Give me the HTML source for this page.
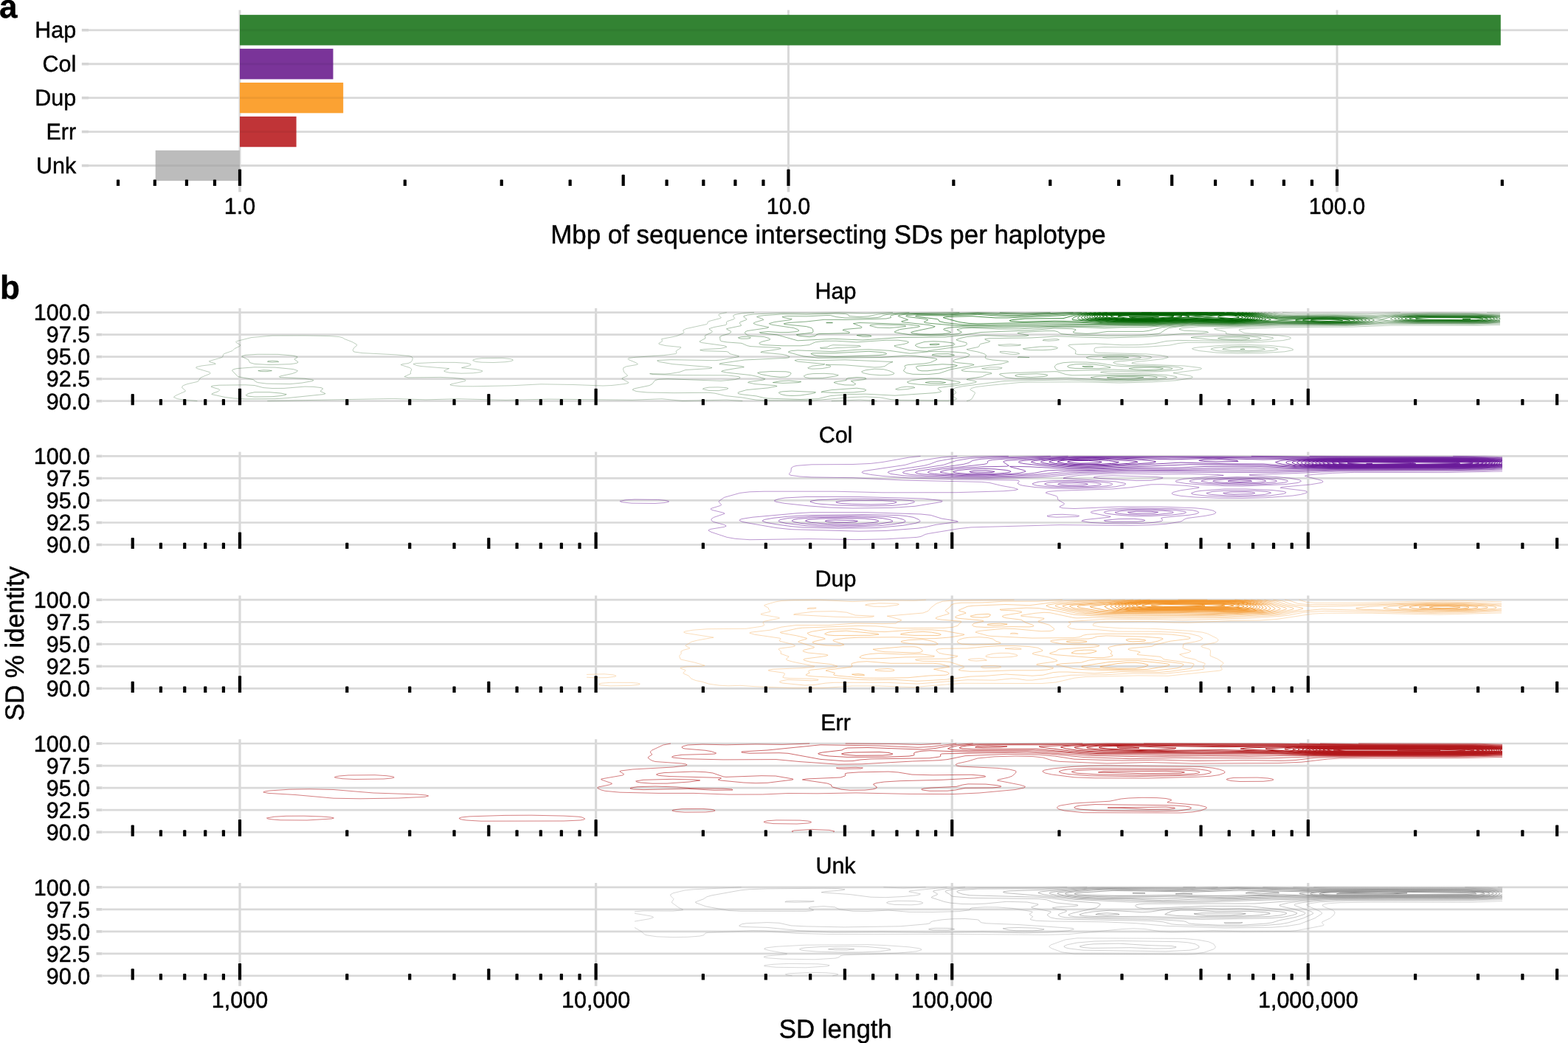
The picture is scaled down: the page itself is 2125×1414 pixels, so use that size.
<!DOCTYPE html><html><head><meta charset="utf-8"><title>Figure</title><style>
html,body{margin:0;padding:0;background:#fff;overflow:hidden;}
svg{display:block;} .t30{font-family:'Liberation Sans', Arial, sans-serif;font-size:30.5px;fill:#000;}
text{stroke:#000;stroke-width:0.45px;text-rendering:geometricPrecision;} .t34{font-family:'Liberation Sans', Arial, sans-serif;font-size:34.9px;fill:#000;} .lab{font-family:'Liberation Sans', Arial, sans-serif;font-size:44px;font-weight:bold;fill:#000;}
</style></head><body>
<svg width="2125" height="1414" viewBox="0 0 2125 1414">
<rect width="2125" height="1414" fill="#fff"/>
<line x1="120.0" y1="40.80" x2="2125" y2="40.80" stroke="#d9d9d9" stroke-width="2.8"/>
<line x1="110.8" y1="40.80" x2="120.0" y2="40.80" stroke="#d4d4d4" stroke-width="3.6"/>
<line x1="120.0" y1="86.73" x2="2125" y2="86.73" stroke="#d9d9d9" stroke-width="2.8"/>
<line x1="110.8" y1="86.73" x2="120.0" y2="86.73" stroke="#d4d4d4" stroke-width="3.6"/>
<line x1="120.0" y1="132.66" x2="2125" y2="132.66" stroke="#d9d9d9" stroke-width="2.8"/>
<line x1="110.8" y1="132.66" x2="120.0" y2="132.66" stroke="#d4d4d4" stroke-width="3.6"/>
<line x1="120.0" y1="178.59" x2="2125" y2="178.59" stroke="#d9d9d9" stroke-width="2.8"/>
<line x1="110.8" y1="178.59" x2="120.0" y2="178.59" stroke="#d4d4d4" stroke-width="3.6"/>
<line x1="120.0" y1="224.52" x2="2125" y2="224.52" stroke="#d9d9d9" stroke-width="2.8"/>
<line x1="110.8" y1="224.52" x2="120.0" y2="224.52" stroke="#d4d4d4" stroke-width="3.6"/>
<line x1="325.00" y1="13.6" x2="325.00" y2="252.0" stroke="#d9d9d9" stroke-width="3"/>
<line x1="325.00" y1="252.0" x2="325.00" y2="260.3" stroke="#d4d4d4" stroke-width="3.6"/>
<line x1="1068.50" y1="13.6" x2="1068.50" y2="252.0" stroke="#d9d9d9" stroke-width="3"/>
<line x1="1068.50" y1="252.0" x2="1068.50" y2="260.3" stroke="#d4d4d4" stroke-width="3.6"/>
<line x1="1812.00" y1="13.6" x2="1812.00" y2="252.0" stroke="#d9d9d9" stroke-width="3"/>
<line x1="1812.00" y1="252.0" x2="1812.00" y2="260.3" stroke="#d4d4d4" stroke-width="3.6"/>
<rect x="325.00" y="20.15" width="1708.80" height="41.3" fill="#338333"/>
<line x1="325.00" y1="40.80" x2="2033.80" y2="40.80" stroke="#000" stroke-opacity="0.05" stroke-width="2.8"/>
<rect x="325.00" y="66.08" width="126.50" height="41.3" fill="#7a3499"/>
<line x1="325.00" y1="86.73" x2="451.50" y2="86.73" stroke="#000" stroke-opacity="0.05" stroke-width="2.8"/>
<rect x="325.00" y="112.01" width="140.20" height="41.3" fill="#fba233"/>
<line x1="325.00" y1="132.66" x2="465.20" y2="132.66" stroke="#000" stroke-opacity="0.05" stroke-width="2.8"/>
<rect x="325.00" y="157.94" width="76.60" height="41.3" fill="#c03437"/>
<line x1="325.00" y1="178.59" x2="401.60" y2="178.59" stroke="#000" stroke-opacity="0.05" stroke-width="2.8"/>
<rect x="210.70" y="203.87" width="114.30" height="41.3" fill="#bcbcbc"/>
<line x1="210.70" y1="224.52" x2="325.00" y2="224.52" stroke="#000" stroke-opacity="0.05" stroke-width="2.8"/>
<path d="M157.96 252.00V244.60q0 -1 1 -1h2.2q1 0 1 1V252.00z" fill="#000"/>
<path d="M207.73 252.00V244.60q0 -1 1 -1h2.2q1 0 1 1V252.00z" fill="#000"/>
<path d="M250.85 252.00V244.60q0 -1 1 -1h2.2q1 0 1 1V252.00z" fill="#000"/>
<path d="M288.88 252.00V244.60q0 -1 1 -1h2.2q1 0 1 1V252.00z" fill="#000"/>
<path d="M322.90 252.00V230.40q0 -1 1 -1h2.2q1 0 1 1V252.00z" fill="#000"/>
<path d="M546.72 252.00V244.60q0 -1 1 -1h2.2q1 0 1 1V252.00z" fill="#000"/>
<path d="M677.64 252.00V244.60q0 -1 1 -1h2.2q1 0 1 1V252.00z" fill="#000"/>
<path d="M770.53 252.00V244.60q0 -1 1 -1h2.2q1 0 1 1V252.00z" fill="#000"/>
<path d="M842.58 252.00V237.80q0 -1 1 -1h2.2q1 0 1 1V252.00z" fill="#000"/>
<path d="M901.46 252.00V244.60q0 -1 1 -1h2.2q1 0 1 1V252.00z" fill="#000"/>
<path d="M951.23 252.00V244.60q0 -1 1 -1h2.2q1 0 1 1V252.00z" fill="#000"/>
<path d="M994.35 252.00V244.60q0 -1 1 -1h2.2q1 0 1 1V252.00z" fill="#000"/>
<path d="M1032.38 252.00V244.60q0 -1 1 -1h2.2q1 0 1 1V252.00z" fill="#000"/>
<path d="M1066.40 252.00V230.40q0 -1 1 -1h2.2q1 0 1 1V252.00z" fill="#000"/>
<path d="M1290.22 252.00V244.60q0 -1 1 -1h2.2q1 0 1 1V252.00z" fill="#000"/>
<path d="M1421.14 252.00V244.60q0 -1 1 -1h2.2q1 0 1 1V252.00z" fill="#000"/>
<path d="M1514.03 252.00V244.60q0 -1 1 -1h2.2q1 0 1 1V252.00z" fill="#000"/>
<path d="M1586.08 252.00V237.80q0 -1 1 -1h2.2q1 0 1 1V252.00z" fill="#000"/>
<path d="M1644.96 252.00V244.60q0 -1 1 -1h2.2q1 0 1 1V252.00z" fill="#000"/>
<path d="M1694.73 252.00V244.60q0 -1 1 -1h2.2q1 0 1 1V252.00z" fill="#000"/>
<path d="M1737.85 252.00V244.60q0 -1 1 -1h2.2q1 0 1 1V252.00z" fill="#000"/>
<path d="M1775.88 252.00V244.60q0 -1 1 -1h2.2q1 0 1 1V252.00z" fill="#000"/>
<path d="M1809.90 252.00V230.40q0 -1 1 -1h2.2q1 0 1 1V252.00z" fill="#000"/>
<path d="M2033.72 252.00V244.60q0 -1 1 -1h2.2q1 0 1 1V252.00z" fill="#000"/>
<text transform="translate(103.2 51.20) scale(1 1.01)" text-anchor="end" class="t30">Hap</text>
<text transform="translate(103.2 97.13) scale(1 1.01)" text-anchor="end" class="t30">Col</text>
<text transform="translate(103.2 143.06) scale(1 1.01)" text-anchor="end" class="t30">Dup</text>
<text transform="translate(103.2 188.99) scale(1 1.01)" text-anchor="end" class="t30">Err</text>
<text transform="translate(103.2 234.92) scale(1 1.01)" text-anchor="end" class="t30">Unk</text>
<text transform="translate(325.00 289.8) scale(1 1.01)" text-anchor="middle" class="t30">1.0</text>
<text transform="translate(1068.50 289.8) scale(1 1.01)" text-anchor="middle" class="t30">10.0</text>
<text transform="translate(1812.00 289.8) scale(1 1.01)" text-anchor="middle" class="t30">100.0</text>
<text transform="translate(1122.5 330.1) scale(1 1.02)" text-anchor="middle" class="t34">Mbp of sequence intersecting SDs per haplotype</text>
<text transform="translate(-1 24.3) scale(1 1.02)" class="lab">a</text>
<line x1="138.5" y1="423.60" x2="2125" y2="423.60" stroke="#d9d9d9" stroke-width="2.7"/>
<line x1="130.5" y1="423.60" x2="138.5" y2="423.60" stroke="#d4d4d4" stroke-width="3.6"/>
<text transform="translate(122.2 434.40) scale(1 1.01)" text-anchor="end" class="t30">100.0</text>
<line x1="138.5" y1="453.62" x2="2125" y2="453.62" stroke="#d9d9d9" stroke-width="2.7"/>
<line x1="130.5" y1="453.62" x2="138.5" y2="453.62" stroke="#d4d4d4" stroke-width="3.6"/>
<text transform="translate(122.2 464.43) scale(1 1.01)" text-anchor="end" class="t30">97.5</text>
<line x1="138.5" y1="483.65" x2="2125" y2="483.65" stroke="#d9d9d9" stroke-width="2.7"/>
<line x1="130.5" y1="483.65" x2="138.5" y2="483.65" stroke="#d4d4d4" stroke-width="3.6"/>
<text transform="translate(122.2 494.45) scale(1 1.01)" text-anchor="end" class="t30">95.0</text>
<line x1="138.5" y1="513.68" x2="2125" y2="513.68" stroke="#d9d9d9" stroke-width="2.7"/>
<line x1="130.5" y1="513.68" x2="138.5" y2="513.68" stroke="#d4d4d4" stroke-width="3.6"/>
<text transform="translate(122.2 524.48) scale(1 1.01)" text-anchor="end" class="t30">92.5</text>
<line x1="138.5" y1="543.70" x2="2125" y2="543.70" stroke="#d9d9d9" stroke-width="2.7"/>
<line x1="130.5" y1="543.70" x2="138.5" y2="543.70" stroke="#d4d4d4" stroke-width="3.6"/>
<text transform="translate(122.2 554.50) scale(1 1.01)" text-anchor="end" class="t30">90.0</text>
<line x1="325.00" y1="417.80" x2="325.00" y2="549.30" stroke="#d9d9d9" stroke-width="3.2"/>
<line x1="807.60" y1="417.80" x2="807.60" y2="549.30" stroke="#d9d9d9" stroke-width="3.2"/>
<line x1="1290.20" y1="417.80" x2="1290.20" y2="549.30" stroke="#d9d9d9" stroke-width="3.2"/>
<line x1="1772.80" y1="417.80" x2="1772.80" y2="549.30" stroke="#d9d9d9" stroke-width="3.2"/>
<g transform="scale(.1)" fill="none" stroke="#006400" stroke-width="10"><path d="M2674 5436l-216-20-55-10-47-20 5-10 34-20 115-50 4-10-47-40 5-20 12-10 55-20 130-30 21-10 23-40 14-10 120-50 3-10-9-10-170-50-14-10 5-10 68-16 191-24-5-10-76-20-6-10 172-50 12-10 8-30 11-10 112-40 30-30 64-30 13-10 1-10-52-30-8-10 10-10 203-51 280-24 440-1 330 6 138 10 40 10 32 20 100 38 58 32 8 10-3 10-36 30-15 30 8 20 20 6 103 14 457 23 173 17 35 10 16 20-8 30-16 23-40 17-73 10-24 10 123 40 23 20-16 40 4 20-86 40 49 13 440-5 160 7 128 15 39 10 14 10-8 10-181 40-23 10 30 10 121 11 160 1 520-10 400-20 440 7 400 15 120-5 170-19 51-10 10-10-91-50 4-10 69-30-1-10-44-40-13-40 5-20 40-18 132-22 22-10-28-20-97-40-10-10 12-10 89-13 387-27 161-20 12-10-8-20 4-10 60-40 0-10-206-20-86-20-7-10 48-30-8-30 205-40 90-40 8-10-12-20 2-10 39-20 277-60 13-10 4-20 12-10 154-40 15-10-33-30-2-10 15-10 94-20M17380 4236l190 17 440-4 520 8 448-21M20151 4236l179 7M20330 4405l-280 8-1200-2-520 21-960 4-478 20-95 10-6 10 51 30 32 10 456 32 134 18 25 10 4 10-14 10-94 20-335 24-240 8-720-5-120 12-120 26-280 20-200 6-400-2-120 8-20 13 0 40 15 10 45 7 640 16 197 17 99 20 5 10-69 20-360 40-57 10-6 10 71 11 640 23 217 26 18 10-12 10-47 10-325 40 228 40 29 10 4 10-20 10-212 33-320 20-440 12-520-13-720 3-120 5-418 40-163 20-70 20-10 10 4 10 54 30 7 10-3 10-39 70-32 20-39 10M17090 4787l-320 5-280-11-235-25-87-20-12-10 27-10 80-10 347-27 280-6 320 11 240 27 57 15 17 10-2 10-112 22-320 19M6850 4907l-160 8-160-3-80-8-42-18 8-10 37-10 77-9 280-3 108 12 32 10 2 10-26 10-76 11M6410 5058l-160 4-160-10-69-16-2-10 67-30-376-30-58-10-50-20 29-10 299-13 240 1 160 10 45 12 6 10-14 10-111 30 194 21 85 19 1 10-29 10-97 12M10063 5436l-213-15-600 14-280-28-400 16-1120-12-600 13-640-17-440 12-440-15-1707 32M11884 5436l-234-15-383 15" stroke="#3f6f3f" stroke-opacity="0.34"/>
<path d="M20330 4389l-320 11-1200-7-520 24-1000 3-800 31-35 5 12 10 138 30 12 10-1 20 83 10 405 20 144 20 9 10-23 10-64 11-200 17-200 5-800-15-160 10-160 33-215 19-225 2-360-19-320 12-42 5-10 10 96 60 6 20-8 30 38 10 720 3 160 10 110 17 10 10-19 10-49 10-438 40-17 10 49 20 154 17 560 14 120 11 64 18-17 10-87 14-240 19-240 4-360-11-125 4-50 10 95 13 560 10 240 15 133 22 8 10-65 20-196 19-440 16-200 0-600-22-840 16-552 71-106 20-35 20 31 30 8 20-54 40 64 40-10 10-26 7-80 9-658-6-120-10-142-27-200-10-200 7-520 44-640-2-120-6-200-33-215-23-145-34-80-9-480 4-360-7-145-14-52-20 5-10 29-10 194-40 37-20 39-50 53-14 120-5 720 27 191-18 66-20 3-10-17-10-163-18-614-2-386-10-44-10 204 5 80-7 114-18 86-31 320-19 40-10-43-10-492-40-173-30-31-10-3-10 182-9 600 10 80-7 242-44 0-10-125-30-11-20-29-10-317-10-43-10 53-10 230-12 77-18-5-10-35-10-293-40-30-10 0-10 76-40-6-30 5-10 88-40 6-10-6-10-33-20-2-10 62-20 159-30 15-10-2-30 11-10 90-30 10-10-20-30 3-10 18-10 109-20 153-10M17258 4236l152 25 160 8 440-5 600 9 400-24 360-8 560 4 400 14M14309 4616l45-10-24-9-40-1-149 10-11 10 80 6 99-6M13799 4686l36-10-143-10-164 10 15 10 67 5 189-5M17090 4766l-200 7-200-3-195-14-84-20 8-10 39-10 152-16 200-7 240 4 200 16 60 13 9 10-69 17-160 13M13817 4796l-16-10-66-10-125-12-58 2-1 10 36 10 103 16 80 3 47-9M3930 4937l-280 8-200-11-64-18-21-40-86-40 4-10 47-13 160-10 280 1 200 17 59 15 1 10-38 20 2 10 44 30-2 10-26 10-80 11M13950 4846l-140-10-19 10 159 0M3930 5206l-320-5-116-15-25-10-38-30-206-40-78-80 3-10 18-10 42-10 240-18 280 3 248 25 56 20-20 20-56 20-145 30-29 10 10 10 336 17 97 13 22 10-18 10-141 25-160 15M13504 5006l69-10 7-10-50-8-120 1-104 17 64 11 134-1M3730 5407l-400 2-160-9-116-14-185-40 6-10 83-30 20-20-12-10-102-30 2-10 24-6 80-8 360-4 120 7 119 31 121 9 160-1 280-23 120 3 100 12 24 10-1 10-26 20-3 10 66 30-26 10-488 50-166 11M9737 5296l115-20 17-10-24-10-115-7-120 2-80 15-5 10 85 19 127 1" stroke="#396e39" stroke-opacity="0.38"/>
<path d="M20330 4378l-360 13-1160-10-560 29-880-3-640 19-480 2-231 18-33 10-3 10 67 16 280 11 26 3 20 10-6 1-80 11-280 8-440 38-560 16-680-21-360 21-560 7-62 9 4 10 65 20-11 10-116 27-15 13-6 20-19 10-149 30 21 10 128 24 88 26 27 20-13 30 4 10 19 10 75 14 205 16 12 10-107 30-350 40-116 20-63 20 6 10 53 9 270 11 75 10 4 10-69 12-57 28-190 30-23 10 110 20 23 10-17 10-108 20-384 50-14 10 6 10 41 30-18 10-68 10-541 36-400-20-218 4-256 20-171 40-235 9-440-14-48-5-112-27-200-22-45-11-5-10 14-10 103-30 293-27 121-23-30-10-271-20-94-20 15-10 179-23 31-7 6-10-95-30-98-20-324-35-73-15 16-10 48-10 242-40-34-10-300-30 17-10 324-46 560-26 40-5 10-13-41-20-49-11-301-29 19-10 213-30 42-10-17-10-396-20-44-10-76-33-200-14-74-13-15-10-5-50 40-20 78-20 31-20 1-10-9-10-45-20-5-10 196-40 1-10-17-20-2-10 8-10 81-30 6-10-42-30 2-10 50-16 80-10 400-17 360 4 400-9 360 11 370-13M17188 4236l152 30 190 12 480-5 640 11 360-26 360-8 600 5 360 14M16810 4616l-380-10-290-30 48-10 382-11 360 5 120 12 42 14-25 10-71 10-186 10M11243 4726l87-10 269-10 66-10-17-10-38-2-320-7-40 8-40 21-96 10 21 10 108 0M14130 4747l-163-1-93-10-10-10 226-26 160-3 63 9 21 10-11 10-73 14-120 7M16930 4757l-240-4-121-17 6-10 115-15 160-4 160 4 120 14 14 11-54 11-160 10M15170 4877l-320-5-80-8-37-8-11-10 48-14 160-10 240-3 200 7 75 10 19 10-24 10-110 13-160 8M11143 4996l105-20 12-10-10-9-60-11 60-2 200 4 400 32 80-3 60-11 56-40 54-20-650-28-360 9-280-12-39 11 39 15 368 35-16 10-152 15-62 25 8 10 54 6 133-6M3770 4907l-80 4-63-5 2-10 61-5 72 5 15 10-7 1M15650 5026l-200 0-360-16-720 18-40-10-17-12-15-20-4-20 17-20 20-10 79-19 120-8 200 2 160 12 207 33 113 11 440 4 200 13 41 12-18 10-223 20M12034 5086l67-10 16-10-2-10-65-30-80-20-120-4-120 16-52 18 2 10 16 10 93 20 141 11 104-1M3610 5037l-67-1-45-10 72-9 80 3 34 6-74 11M15330 5157l-320-1-560-33-480 13-200-2-138-18-88-40 14-10 132-9 600-20 40 1 114 38 86 12 600-8 480 7 189 19 15 10-22 10-142 17-320 14M11148 5126l195-30 19-10-72-16-120-7-152 3-80 10-43 20 3 10 16 10 56 12 178-2M12295 5276l104-20-19-10-90-4-80 9-73 25 33 9 125-9M3690 5377l-240 3-80-8-28-6-9-10 37-22 80-17 200 0 160 14 72 15-20 10-59 10-113 11" stroke="#326d32" stroke-opacity="0.42"/>
<path d="M20330 4369l-160 12-200 4-800-4-400-11-280 23-240 10-880-4-680 19-520-3-180 11-144 20-46 20-75 50-37 10-158 17-200 8-320 1-480-10-150-16-48-30-42-10-120 0-335 20-46 10 152 30-38 10-213 4-360-13-228 19-91 20-52 20 17 10 121 30 7 20-24 20-499 70-11 8-240-15-206-53-3-10 129-21 60-19 3-10-24-10-119-14-160 0-400 27-280-17-160 1-120 15-85 38-115 12-240 0-263-12-46-10-12-10 6-10 35-15 103-25 3-10-15-10-65-20-186-11-40-11-36-28 9-20 27-11 272-39 16-10-152-30-54-20 5-10 26-10 106-30-8-10-85-30 23-10 75-10 256-17 320 5 400-13 125 5 42 10 9 20 144 10 120-8 98-22 81-10 374-20M17133 4236l197 39 160 10 560-6 600 16 360-29 360-8 640 4 320 15M10130 4591l-80 1-38-6-7-10 45-10 80-3 44 13-8 10-36 5M16890 4597l-200 5-130-6-55-10 37-10 68-4 200-2 92 6 36 10-48 11M16850 4737l-41-1 41-7 21 7-21 1M12570 5077l-200-4-86-17-40-30 27-40-11-20 5-10 39-10 226-17 75-13 91-40-1-10-42-10-243-28-120-7-360 25-840 7-200-23-205-54 4-10 37-10 84-7 480 18 320-25 160-5 280 16 280 39 280-27 320 6 160 15 48 20 1 10-9 10-40 16-148 34-26 20 12 10 39 10 206 20 28 10-76 20-231 40-164 55-160 16M15210 4857l-200-1-66-10 66-10 200-1 86 11-86 11M14890 4997l-320-3-68-8-30-10-6-10 24-14 80-13 120-4 120 4 140 17 97 20-1 10-156 11M15730 5007l-200 9-173-10-58-10 71-12 240-3 103 5 51 10-34 11M10650 5110l-80 3-120-12-130-25-53-20 31-10 152-11 200 3 46 8 22 10 2 10-26 30-44 14M13970 5116l-183-10-28-10 3-10 44-10 244-9 120 9 28 10-11 10-53 10-164 10M15290 5147l-320-5-165-16-23-10 68-12 200-10 520 4 86 8 28 10-29 10-365 21M11570 5221l-120-2-84-13-65-20 22-10 146-20 2-20 29-10 110-11 80 4 41 7 8 10-30 10-175 20 63 40-27 15M12810 5216l-200 5-160-9-127-16-25-10-1-10 67-20 126-17 120-9 120 2 266 44 18 10-22 10-60 10-122 10M10810 5187l-200 7-136-8 96-19 120-7 167 16-47 11M11570 5319l-240 6-201-9 19-10 123-20 339-24 107 14 18 10-3 10-34 10-128 13M10850 5360l-120 5-80-5-64-14-32-20 11-10 45-8 120-7 323 15-5 10-45 10-153 24" stroke="#2c6c2c" stroke-opacity="0.46"/>
<path d="M20330 4361l-160 14-240 4-800-5-360-15-320 30-240 9-840-7-680 19-520-6-411 32-189 47-80 11-480 0-160 22-120 8-160-10-24-8-1-10 34-20-3-10-46-9-240-6-320 27-680 27-280 43-200 21-600 5-520 36-400-17-480 25-280-79-222-23-14-10 116-10 160 10 120-1 103-9 32-10 0-10-15-10-53-20-274-40-46-10-13-10 70-20 220-30 18-10-108-20-23-10 9-2 56-8 264 3 280-14 44 1 80 20 116 14 320 1 120-6 44-9 33-20 43-10 200-18 794-12M13548 4236l342 7 346-7M17086 4236l204 42 200 13 600-5 600 21 320-35 360-8 680 5 280 16M12059 4446l214-20 0-10-63-8-320-9-95 7-6 10 101 25 169 5M12690 4707l-200 8-47-9-37-20 1-10 14-10 109-32 120-7 120 5 122 14 38 10 10 10-13 10-44 10-193 21M11330 4836l-241-10-50-10-50-20 21-8 280 0 480-25 185 13 46 10 15 10-20 10-84 10-582 20M12890 4829l-120 3-139-16 6-10 53-7 160-2 80 14 5 5-5 2-40 11M12570 5028l-80 0-51-12-24-40 12-10 23-5 320-23 160 7 44 11-24 10-220 43-160 19M14810 4976l-108 0-34-10 102-4 44 4-4 10M15410 5128l-280 6-121-8-4-10 165-9 200 0 128 9-88 12M12770 5196l-160 1-70-11 70-13 120 0 86 13-46 10" stroke="#266b26" stroke-opacity="0.50"/>
<path d="M20330 4353l-120 14-160 6-840-3-200-6-280-25-205 37-275 16-920-7-640 18-520-7-640 38-240 0-320 12-400-12-280 0-480 25-280-1-360-14-120 6-78 16 5 10 49 20 7 10-54 20-169 18-200 5-280-11-203-32-3-10 70-30 232-30 39-10-9-10-206-22-600-19-86 11 105 40 13 10-12 10-234 20-16 10 73 20 22 10-5 10-411 10-34 10-17 20-78 11-121-11-48-10-7-10 216-26 10-14-4-30-18-20-72-20-298-30-4-10 66-11 240-15 240-27 280 2 560-15 65-14-8-20 11-10 45-10 207-16 480 1 440-13 600 14 695-16M17044 4236l206 44 120 14 880 0 240 11 240 25 126-34 65-10 249-15 840 2 200 8 120 12M11285 4376l-88 0 88 0M11810 4557l-40 6-80 0-79-17 39-6 80 1 54 5 26 11M12690 4677l-80 0-7-1-2-10 89-6 42 6-42 11" stroke="#206a20" stroke-opacity="0.54"/>
<path d="M17003 4236l87 14 160 38 120 12 680-5 440 17 102 14 30 10-1 10-79 20-132 14-360 10-800-11-600 18-440-9-600 28-320-2-400 10-480-3-800 15-560-5-160 8-93 17-11 10 17 10 70 20 13 10-21 10-95 12-160 6-160-5-94-13-10-10 24-10 280-58 22-12-80-20-368-40-6-10 87-20-133-50 8-10 50-10 180-11 400 5 440-16 600 17 809-25M20330 4343l-120 18-160 8-840-4-240-11-80-12-44-16 4-10 20-10 60-13 280-17 840 3 160 7 120 16" stroke="#196819" stroke-opacity="0.58"/>
<path d="M16963 4236l87 12 200 47 120 11 640-7 448 17 72 10 32 10 3 10-77 20-158 14-360 5-680-13-600 19-560-8-480 23-1040 1-1080 13-560-5-360-31-64-8-23-10 54-30-24-10-244-30-32-10 13-11 160-12 400 5 400-15 400 19 160 1 922-37M20170 4359l-240 6-800-7-160-12-48-10-21-10 0-10 69-21 200-13 920 3 159 11 78 20 3 10-40 17-120 16" stroke="#136713" stroke-opacity="0.62"/>
<path d="M16922 4236l128 18 160 42 120 15 120 3 560-11 400 15 80 12 21 6 5 10-84 20-142 11-360 3-640-14-600 19-560-8-480 21-1480-7-760 15-360-4-236-26-84-19-9-21-22-10-242-30-51-10 30-10 414 3 400-15 320 20 200 3 680-27 343-24M20130 4356l-200 5-760-7-160-12-60-16-3-10 74-20 189-11 880 5 120 8 80 18 4 10-18 10-146 20" stroke="#0d660d" stroke-opacity="0.66"/>
<path d="M16878 4236l132 15 200 52 120 16 120 3 520-14 400 13 91 15 8 10-97 20-162 9-240 1-640-18-600 22-560-9-560 20-600-2-360-15-440-5-960 20-120-5-131-18-217-60 33-10 355-9 320 22 160 0 720-30 483-43M19970 4356l-800-7-141-13-32-10-4-10 24-10 73-10 160-6 840 5 123 11 37 10 5 10-5 3-80 18-200 9" stroke="#066506" stroke-opacity="0.70"/>
<path d="M16829 4236l177 20 164 47 160 29 80 2 400-20 320 1 200 10 78 11 11 10-49 12-160 12-280 1-560-25-640 29-560-9-520 18-640-4-400-21-320-7-440 10-147-6-23-10 35-10 175-16 520-4 183-50 163-20 163-10M20090 4347l-880-3-120-8-43-10-5-10 48-12 160-9 760 3 144 8 51 10 8 10-25 10-98 11" stroke="#006400" stroke-opacity="0.74"/>
<path d="M16767 4236l146 10 109 20 191 60 11 10-51 10-443 24-560-9-560 16-600-5-471-36-11-10 36-30 82-30 156-20 203-10M15471 4236l138 0M16075 4236l294 0M19930 4346l-720-8-103-12-6-10 51-10 138-6 760 5 101 11 13 10-74 14-160 6M18170 4366l-320-1-291-19 0-10 171-14 400-2 160 9 57 7 16 10-37 10-156 10" stroke="#006400" stroke-opacity="0.78"/>
<path d="M16622 4236l228 8 148 22 161 60-8 10-61 10-360 20-560-10-560 15-600-6-354-29-40-10-10-10 10-20 36-20 95-20 143-13 200-6 1505-1M20010 4338l-720-6-96-6-11-10 187-10 600 4 105 6 24 10-89 12M18210 4358l-320 3-233-15 1-10 106-10 286-2 220 12 25 10-85 12" stroke="#006400" stroke-opacity="0.82"/>
<path d="M16850 4358l-240 4-440-10-520 13-560-3-353-26-55-10-23-10-5-10 15-20 56-20 85-13 160-11 1720-3 240 18 77 19 101 40 6 10-24 11-240 21M19930 4327l-109-1 109 1M18010 4356l-249-10 5-10 84-5 240 2 64 3 42 10-186 10" stroke="#006400" stroke-opacity="0.86"/>
<path d="M16770 4356l-600-9-560 14-480-4-322-21-78-12-35-18 10-20 54-20 91-13 160-9 1680-2 120 5 120 15 82 24 63 30-1 10-64 15-240 15" stroke="#006400" stroke-opacity="0.90"/>
<path d="M15610 4356l-520-5-297-25-60-20-3-10 8-10 19-10 104-20 170-10 1699 0 193 20 89 30 31 20-7 10-39 10-227 16-600-10-560 14" stroke="#006400" stroke-opacity="0.94"/>
<path d="M16810 4347l-160 2-480-12-560 15-400-2-360-24-56-10-24-10-6-10 24-20 38-10 224-18 840-1 400 6 400-5 200 17 74 21 41 20 5 12-40 14-160 15" stroke="#006400" stroke-opacity="0.98"/>
<path d="M15690 4346l-480 0-320-22-83-18-10-10 4-10 19-10 110-18 120-7 840-1 400 8 440-5 160 18 72 25 16 10 3 10-20 10-63 10-168 9-520-13-520 14" stroke="#006400" stroke-opacity="1.00"/>
<path d="M16810 4338l-160 2-440-13-600 17-320-1-328-17-78-10-53-20 2-10 19-10 45-10 193-12 800-1 400 10 400-8 143 11 102 30 14 10-1 10-18 7-120 15" stroke="#006400" stroke-opacity="1.00"/>
<path d="M15730 4336l-440 4-356-24-68-20 0-10 20-10 52-10 152-9 800-1 400 12 400-9 160 17 69 30-6 10-38 10-145 10-480-15-520 15" stroke="#006400" stroke-opacity="1.00"/>
<path d="M15570 4337l-320-3-280-21-66-17-2-10 22-10 166-15 800-2 400 17 400-12 124 12 38 10 34 20-12 10-24 5-120 9-480-16-680 23" stroke="#006400" stroke-opacity="1.00"/>
<path d="M15730 4327l-360 6-319-17-81-13-23-7-5-10 68-16 120-6 800 0 400 31 159-19 161-7 120 7 44 10 32 20-36 12-120 6-400-27-560 30" stroke="#006400" stroke-opacity="1.00"/>
<path d="M15610 4327l-400-4-171-17-42-10-7-10 33-10 147-8 680-1 160 6 104 13 0 10-87 10-417 21M16690 4316l-151-10-36-10 22-10 85-9 120 4 59 15 2 10-101 10" stroke="#006400" stroke-opacity="1.00"/>
<path d="M15730 4317l-240 8-200-4-179-15-50-10-9-10 60-10 98-3 720 2 90 11-14 10-276 21" stroke="#006400" stroke-opacity="1.00"/>
<path d="M15610 4316l-297 0-164-20 5-10 96-5 600 0 59 5-19 10-280 20" stroke="#006400" stroke-opacity="1.00"/>
<path d="M15610 4306l-200 3-75-3-34-10 349-4 54 4-94 10" stroke="#006400" stroke-opacity="1.00"/></g>
<path d="M177.62 549.30V535.10q0 -1 1 -1h2.2q1 0 1 1V549.30z" fill="#000"/>
<path d="M215.84 549.30V541.90q0 -1 1 -1h2.2q1 0 1 1V549.30z" fill="#000"/>
<path d="M248.14 549.30V541.90q0 -1 1 -1h2.2q1 0 1 1V549.30z" fill="#000"/>
<path d="M276.13 549.30V541.90q0 -1 1 -1h2.2q1 0 1 1V549.30z" fill="#000"/>
<path d="M300.82 549.30V541.90q0 -1 1 -1h2.2q1 0 1 1V549.30z" fill="#000"/>
<path d="M322.90 549.30V527.70q0 -1 1 -1h2.2q1 0 1 1V549.30z" fill="#000"/>
<path d="M468.18 549.30V541.90q0 -1 1 -1h2.2q1 0 1 1V549.30z" fill="#000"/>
<path d="M553.16 549.30V541.90q0 -1 1 -1h2.2q1 0 1 1V549.30z" fill="#000"/>
<path d="M613.45 549.30V541.90q0 -1 1 -1h2.2q1 0 1 1V549.30z" fill="#000"/>
<path d="M660.22 549.30V535.10q0 -1 1 -1h2.2q1 0 1 1V549.30z" fill="#000"/>
<path d="M698.44 549.30V541.90q0 -1 1 -1h2.2q1 0 1 1V549.30z" fill="#000"/>
<path d="M730.74 549.30V541.90q0 -1 1 -1h2.2q1 0 1 1V549.30z" fill="#000"/>
<path d="M758.73 549.30V541.90q0 -1 1 -1h2.2q1 0 1 1V549.30z" fill="#000"/>
<path d="M783.42 549.30V541.90q0 -1 1 -1h2.2q1 0 1 1V549.30z" fill="#000"/>
<path d="M805.50 549.30V527.70q0 -1 1 -1h2.2q1 0 1 1V549.30z" fill="#000"/>
<path d="M950.78 549.30V541.90q0 -1 1 -1h2.2q1 0 1 1V549.30z" fill="#000"/>
<path d="M1035.76 549.30V541.90q0 -1 1 -1h2.2q1 0 1 1V549.30z" fill="#000"/>
<path d="M1096.05 549.30V541.90q0 -1 1 -1h2.2q1 0 1 1V549.30z" fill="#000"/>
<path d="M1142.82 549.30V535.10q0 -1 1 -1h2.2q1 0 1 1V549.30z" fill="#000"/>
<path d="M1181.04 549.30V541.90q0 -1 1 -1h2.2q1 0 1 1V549.30z" fill="#000"/>
<path d="M1213.34 549.30V541.90q0 -1 1 -1h2.2q1 0 1 1V549.30z" fill="#000"/>
<path d="M1241.33 549.30V541.90q0 -1 1 -1h2.2q1 0 1 1V549.30z" fill="#000"/>
<path d="M1266.02 549.30V541.90q0 -1 1 -1h2.2q1 0 1 1V549.30z" fill="#000"/>
<path d="M1288.10 549.30V527.70q0 -1 1 -1h2.2q1 0 1 1V549.30z" fill="#000"/>
<path d="M1433.38 549.30V541.90q0 -1 1 -1h2.2q1 0 1 1V549.30z" fill="#000"/>
<path d="M1518.36 549.30V541.90q0 -1 1 -1h2.2q1 0 1 1V549.30z" fill="#000"/>
<path d="M1578.65 549.30V541.90q0 -1 1 -1h2.2q1 0 1 1V549.30z" fill="#000"/>
<path d="M1625.42 549.30V535.10q0 -1 1 -1h2.2q1 0 1 1V549.30z" fill="#000"/>
<path d="M1663.64 549.30V541.90q0 -1 1 -1h2.2q1 0 1 1V549.30z" fill="#000"/>
<path d="M1695.94 549.30V541.90q0 -1 1 -1h2.2q1 0 1 1V549.30z" fill="#000"/>
<path d="M1723.93 549.30V541.90q0 -1 1 -1h2.2q1 0 1 1V549.30z" fill="#000"/>
<path d="M1748.62 549.30V541.90q0 -1 1 -1h2.2q1 0 1 1V549.30z" fill="#000"/>
<path d="M1770.70 549.30V527.70q0 -1 1 -1h2.2q1 0 1 1V549.30z" fill="#000"/>
<path d="M1915.98 549.30V541.90q0 -1 1 -1h2.2q1 0 1 1V549.30z" fill="#000"/>
<path d="M2000.96 549.30V541.90q0 -1 1 -1h2.2q1 0 1 1V549.30z" fill="#000"/>
<path d="M2061.25 549.30V541.90q0 -1 1 -1h2.2q1 0 1 1V549.30z" fill="#000"/>
<path d="M2108.02 549.30V535.10q0 -1 1 -1h2.2q1 0 1 1V549.30z" fill="#000"/>
<text transform="translate(1132.5 405.15) scale(1 1.01)" text-anchor="middle" class="t30">Hap</text>
<line x1="138.5" y1="618.40" x2="2125" y2="618.40" stroke="#d9d9d9" stroke-width="2.7"/>
<line x1="130.5" y1="618.40" x2="138.5" y2="618.40" stroke="#d4d4d4" stroke-width="3.6"/>
<text transform="translate(122.2 629.20) scale(1 1.01)" text-anchor="end" class="t30">100.0</text>
<line x1="138.5" y1="648.43" x2="2125" y2="648.43" stroke="#d9d9d9" stroke-width="2.7"/>
<line x1="130.5" y1="648.43" x2="138.5" y2="648.43" stroke="#d4d4d4" stroke-width="3.6"/>
<text transform="translate(122.2 659.23) scale(1 1.01)" text-anchor="end" class="t30">97.5</text>
<line x1="138.5" y1="678.45" x2="2125" y2="678.45" stroke="#d9d9d9" stroke-width="2.7"/>
<line x1="130.5" y1="678.45" x2="138.5" y2="678.45" stroke="#d4d4d4" stroke-width="3.6"/>
<text transform="translate(122.2 689.25) scale(1 1.01)" text-anchor="end" class="t30">95.0</text>
<line x1="138.5" y1="708.48" x2="2125" y2="708.48" stroke="#d9d9d9" stroke-width="2.7"/>
<line x1="130.5" y1="708.48" x2="138.5" y2="708.48" stroke="#d4d4d4" stroke-width="3.6"/>
<text transform="translate(122.2 719.28) scale(1 1.01)" text-anchor="end" class="t30">92.5</text>
<line x1="138.5" y1="738.50" x2="2125" y2="738.50" stroke="#d9d9d9" stroke-width="2.7"/>
<line x1="130.5" y1="738.50" x2="138.5" y2="738.50" stroke="#d4d4d4" stroke-width="3.6"/>
<text transform="translate(122.2 749.30) scale(1 1.01)" text-anchor="end" class="t30">90.0</text>
<line x1="325.00" y1="612.60" x2="325.00" y2="744.10" stroke="#d9d9d9" stroke-width="3.2"/>
<line x1="807.60" y1="612.60" x2="807.60" y2="744.10" stroke="#d9d9d9" stroke-width="3.2"/>
<line x1="1290.20" y1="612.60" x2="1290.20" y2="744.10" stroke="#d9d9d9" stroke-width="3.2"/>
<line x1="1772.80" y1="612.60" x2="1772.80" y2="744.10" stroke="#d9d9d9" stroke-width="3.2"/>
<g transform="scale(.1)" fill="none" stroke="#6a1b9a" stroke-width="10"><path d="M20360 6390l-800 16-1208-2-296 10-266 20-87 10-20 10 231 60 14 10 0 10-20 10-148 25-393 35-15 10 328 39 30 11 4 10-15 10-72 20-107 16-360 27-320 8-320-2-320-13-197-16-102-20-17-10 0-10 13-10 103-26 245-34 4-10-179-20-310-17-160 1-280 40-240 21-751 25-116 10-36 10-2 10 139 40 14 10 11 40 10 10 72 40 3 10-12 10-45 20-8 10 41 14 160 7 600-25 560 0 480 18 155 16 85 18 37 22-2 10-14 10-27 10-103 20-232 30-37 10-45 30-29 10-190 30-198 13-280 7-960-8-1200 33-160 17-415 68-44 10-61 30-56 10-424 25-400 7-640-10-800 11-192-13-115-20-213-70-37-20 2-10 24-10 184-30 27-10-3-10-25-10-146-40-27-20 4-20 30-20 147-50-7-10-164-40-16-10 3-10 129-40 12-10-35-40 2-10 70-50 213-60 133-16 200-6 960 0 640 16 1000-1 640-19 160-13 35-11-59-20-166-30-164-40-102-10-1064-23-680-34-560-8-160-9-120-16-22-10-3-10 24-30 5-50 30-20 46-11 200-15 560-3 242-11 158-19 360-64 155-17M15601 6514l153-30 4-10-96-10-582-16-164 6-85 10-11 10 74 10 506 32 201-2M8880 6825l-320-3-120-13-27-5-11-10 78-16 120-8 315 4 104 10 43 10 1 10-63 12-120 9M14604 7004l21-10-57-10-168-11-120 3-90 18 17 10 113 8 284-8" stroke="#6a1b9a" stroke-opacity="0.45"/>
<path d="M20360 6370l-240 10-440 7-1520 3-680 29-545 15 0 10 305 16 240 22 123 22 24 10 7 10-40 20-194 24-560 22-240-3-320-16-212-17-127-20-11-10 15-10 95-20 542-50-99-10-363-10-440 4-480-8-280 5-292 19-150 20-52 10-16 10 710 45 132 25 3 10-16 10-119 24-240 19-280 7-320-3-240-14-174-23-41-10-35-20 24-30-10-10-44-4-800-12-640-19-359-25-164-20-101-20-16-10 8-10 31-10 544-80 178-50 102-20 217-33 212-17M16920 6734l-280 1-271-11-185-20-33-10-5-10 59-20 75-11 320-23 280 0 360 15 165 19 22 10-4 10-27 10-196 27-280 13M12080 6884l-520 6-320-10-280-21-326-35-115-20-22-10 1-10 55-20 87-14 280-15 720 0 880 25 222 24 29 10-10 10-361 59-320 21M15480 7094l-240 5-280-5-181-10-120-20 10-10 49-10 301-30 33-10-257-50-13-10 13-10 103-20 182-16 240-9 560 6 280 22 74 17 12 10-4 10-42 15-80 13-345 32-38 10 20 30-13 10-104 19-160 11M12000 7195l-360 7-920-25-200-21-360-62-101-20-40-20 10-10 30-10 141-22 600-54 200-11 760 0 720 23 133 14 147 46 213 34 9 10-302 40-127 30-113 18-440 33" stroke="#6a1b9a" stroke-opacity="0.49"/>
<path d="M20360 6358l-240 11-400 7-1600 4-880 26-2080-4-520 18-400 39-280 16-600 10-360-4-520-18-240-15-171-24-38-20 10-10 119-27 358-53 78-20 104-40 220-40 280-22 468-8M19692 6184l428 4 240 10M17160 6565l-280 8-320-4-320-21-99-14-21-10 11-10 69-14 240-21 320-12 320 5 240 17 127 25 6 10-15 10-42 10-236 21M14800 6604l-280 5-280-8-176-17-47-10-22-10 0-10 85-23 200-15 280-1 280 11 184 18 42 10 12 10-12 10-66 14-200 16M17000 6715l-200 6-240-6-145-11-53-10-12-10 82-20 168-12 419 2 141 10 55 10 10 10-83 20-142 11M12080 6855l-320 5-400-10-240-17-68-9-71-20 4-10 15-4 80-12 320-16 320-2 440 13 164 11 58 10 13 10-15 10-88 20-212 21M15600 6995l-200 2-200-11-190-22-38-10-10-10 18-10 60-11 240-18 320-2 320 12 136 19 18 10-9 10-37 10-148 17-280 14M11880 7155l-520 8-480-13-160-14-200-28-135-24-53-20 5-10 26-10 117-21 200-21 240-15 800-12 440 11 120 10 102 18 70 30 18 20-6 10-57 20-167 29-360 32M15400 7074l-320 1-110-11-7-10 197-18 209-2 111 9 38 11-20 10-98 10" stroke="#6a1b9a" stroke-opacity="0.54"/>
<path d="M20360 6348l-200 12-320 7-1720 5-840 17-2000-3-720 21-400 37-280 16-480 11-360-3-480-18-218-16-100-20-10-10 43-20 509-80 179-60 182-30 255-14 839-16M17747 6184l2133 8 480 15M17080 6555l-240 6-240-4-214-13-107-20 11-10 52-10 178-15 240-8 265 3 159 10 113 20 7 10-24 10-200 21M14680 6595l-360-5-120-13-43-13 7-10 42-10 114-10 200-5 200 6 122 9 62 10 20 10-15 10-58 10-171 11M16960 6696l-240 6-118-8-26-10 104-14 200-1 84 5 45 10-49 12M12000 6835l-200 5-257-6-147-10-60-10-6-10 70-12 160-10 400 3 135 9 52 10-1 10-38 10-108 11M15680 6975l-200 5-199-6-109-10-51-10-11-10 90-18 160-9 400 5 116 12 27 10-14 10-209 21M11520 7144l-320-2-280-15-270-33-83-20-15-10 6-10 23-10 110-20 309-22 680-9 360 13 120 15 85 23 27 20-8 10-26 10-118 21-200 22-400 17" stroke="#6a1b9a" stroke-opacity="0.58"/>
<path d="M20360 6340l-320 17-440 6-2240 8-840-4-680 10-520-5-880 21-401 41-279 16-360 10-320-3-400-16-200-15-61-12-15-10 46-20 607-90 74-20 50-30 109-20 190-12 996-28M16958 6184l1162 11 1760 3 480 17M17000 6544l-360 2-160-12-43-10 14-10 149-15 360-4 136 9 54 10 7 10-37 10-120 10M14680 6577l-200 3-99-6-45-10 22-10 42-4 200-3 107 7 37 10-64 13M15640 6957l-240 5-97-8-19-10 116-12 200 1 95 11-55 13M11640 7124l-280 3-280-10-232-23-88-18-26-12 3-10 24-10 53-10 226-17 480-8 320 7 120 11 99 17 41 20-11 10-180 30-269 20" stroke="#6a1b9a" stroke-opacity="0.63"/>
<path d="M20360 6333l-280 17-520 8-1760 2-840-15-560 4-520 14-480-6-560 17-520-1-120 6-184 35-136 14-520 21-280-2-285-13-131-10-67-10-24-10 9-10 31-10 147-25 577-65 39-10 9-10 0-20 18-10 52-10 145-11 960-35 1960 1 1520 11 1720 2 360 5 240 15M16960 6525l-160 9-160-10 22-10 138-6 153 6 13 10-6 1M11640 7104l-200 6-226-6-220-20-77-20 4-10 38-10 161-13 320-7 280 7 128 13 45 10 15 10-16 10-47 10-205 20" stroke="#6a1b9a" stroke-opacity="0.68"/>
<path d="M20360 6327l-200 15-320 8-1720 5-440-5-600-25-760 0-400 19-520-3-640 20-280-5-520-28-240-5-35 1 24 10 163 40 24 10 1 10-85 20-101 10-271 13-280 1-288-14-127-20 1-10 73-20 221-28 280-17 320-7 33-8-75-50 4-10 38-10 278-20 682-30 5160 12 360 6 240 16M11480 7084l-160-1-102-9-36-10 34-10 104-5 240 4 63 11-20 10-123 10" stroke="#6a1b9a" stroke-opacity="0.72"/>
<path d="M20360 6321l-240 18-320 8-1760 3-400-9-520-32-1000-12-1160 47-240 3-240-7-280-20-320-34-59-12-18-10 13-10 56-10 234-20 368-20 326-7 1000 14 680-8 640 10 2640-2 360 6 240 17M13440 6425l-328-1-134-10-53-10-8-10 78-20 165-15 160-5 160 5 154 15 51 10 16 10-21 10-67 10-173 11" stroke="#6a1b9a" stroke-opacity="0.77"/>
<path d="M20360 6315l-200 18-320 9-1800 4-389-12-531-44-480-2-640-17-960 55-320 8-200-6-240-17-233-27-74-20 13-10 51-10 206-20 277-15 280-5 1080 25 560-16 680 18 800-17 1880 1 320 6 240 19M13440 6405l-200 4-81-5-20-10 61-11 160-3 119 14-39 11" stroke="#6a1b9a" stroke-opacity="0.81"/>
<path d="M15000 6315l-240 7-240-6-280-24-112-18-24-10 11-10 47-10 84-10 394-21 346 1 493 20 181 20 1 10-45 10-616 41M20360 6309l-200 19-360 11-1800 2-240-7-200-16-177-24-87-20-10-10 72-20 122-12 560-15 1840 2 280 8 200 19M16760 6256l-280 5-173-7-59-10 72-12 240-4 210 16 10 10-20 2" stroke="#6a1b9a" stroke-opacity="0.85"/>
<path d="M14960 6305l-240 5-200-6-218-20-84-20 9-10 48-10 245-19 280-5 240 8 280 19 72 7 27 10-131 20-328 21M20360 6302l-200 22-320 10-1720 5-440-17-150-18-84-20-17-10 2-10 21-10 147-20 481-13 1800 2 280 8 200 22" stroke="#6a1b9a" stroke-opacity="0.90"/>
<path d="M20360 6295l-160 22-320 13-1680 6-280-5-200-12-168-25-41-20 5-10 26-10 138-18 520-12 1720 3 280 11 160 23M14880 6295l-320-1-128-10-102-20 10-10 56-10 124-10 361 0 144 10 138 20-18 10-79 10-186 11" stroke="#6a1b9a" stroke-opacity="0.95"/>
<path d="M19960 6325l-1120 8-800-3-320-18-108-18-37-20 8-10 31-10 66-10 320-15 1960 2 280 16 80 12 37 15-3 10-24 10-51 10-319 21M14880 6277l-240 5-128-8-46-10 15-10 79-8 192-2 135 10 45 10-52 13" stroke="#6a1b9a" stroke-opacity="0.99"/>
<path d="M19840 6324l-1760 3-320-17-94-16-27-10-9-10 11-10 36-10 80-10 283-12 1920 3 298 19 48 10 21 10-3 10-44 13-120 15-320 12" stroke="#6a1b9a" stroke-opacity="1.00"/>
<path d="M19480 6324l-1440-1-268-19-55-10-28-10-8-10 39-16 80-11 320-13 1880 6 160 8 113 16 23 10-4 10-52 14-240 19-520 7" stroke="#6a1b9a" stroke-opacity="1.00"/>
<path d="M18640 6324l-520-3-293-17-90-20-8-10 17-10 94-14 160-9 600-6 1280 6 280 12 77 11 26 10-3 10-60 14-240 17-1320 9" stroke="#6a1b9a" stroke-opacity="1.00"/>
<path d="M19800 6315l-1640 3-276-14-67-10-33-10-7-10 20-10 83-12 280-11 1720 3 280 14 69 16-4 10-127 20-298 11" stroke="#6a1b9a" stroke-opacity="1.00"/>
<path d="M19480 6314l-1320 0-240-13-80-14-15-13 25-10 74-10 316-11 1680 6 236 15 36 10-4 10-44 10-224 14-440 6" stroke="#6a1b9a" stroke-opacity="1.00"/>
<path d="M18760 6314l-520-2-280-14-79-14-7-10 31-10 215-15 480-4 1200 6 240 7 110 16-3 10-53 10-174 11-1160 9" stroke="#6a1b9a" stroke-opacity="1.00"/>
<path d="M19720 6304l-1440 5-280-13-66-12-6-10 39-10 113-9 240-6 1520 6 204 9 58 10-3 10-99 12-280 8" stroke="#6a1b9a" stroke-opacity="1.00"/>
<path d="M19200 6304l-960 0-187-10-60-10-6-10 133-15 280-7 1480 9 163 13-2 10-95 10-746 10" stroke="#6a1b9a" stroke-opacity="1.00"/>
<path d="M19760 6294l-1320 9-300-9-78-10-6-10 104-11 280-7 1289 8 231 10-2 10-198 10" stroke="#6a1b9a" stroke-opacity="1.00"/>
<path d="M19160 6294l-800 3-200-11-14-2-3-10 127-10 290-3 1200 13 16 0 13 10-629 10" stroke="#6a1b9a" stroke-opacity="1.00"/>
<path d="M18560 6294l-297-10 2-10 175-7 697 7 49 10-626 10" stroke="#6a1b9a" stroke-opacity="1.00"/>
<path d="M18600 6284l-83 0 83 0" stroke="#6a1b9a" stroke-opacity="1.00"/></g>
<path d="M177.62 744.10V729.90q0 -1 1 -1h2.2q1 0 1 1V744.10z" fill="#000"/>
<path d="M215.84 744.10V736.70q0 -1 1 -1h2.2q1 0 1 1V744.10z" fill="#000"/>
<path d="M248.14 744.10V736.70q0 -1 1 -1h2.2q1 0 1 1V744.10z" fill="#000"/>
<path d="M276.13 744.10V736.70q0 -1 1 -1h2.2q1 0 1 1V744.10z" fill="#000"/>
<path d="M300.82 744.10V736.70q0 -1 1 -1h2.2q1 0 1 1V744.10z" fill="#000"/>
<path d="M322.90 744.10V722.50q0 -1 1 -1h2.2q1 0 1 1V744.10z" fill="#000"/>
<path d="M468.18 744.10V736.70q0 -1 1 -1h2.2q1 0 1 1V744.10z" fill="#000"/>
<path d="M553.16 744.10V736.70q0 -1 1 -1h2.2q1 0 1 1V744.10z" fill="#000"/>
<path d="M613.45 744.10V736.70q0 -1 1 -1h2.2q1 0 1 1V744.10z" fill="#000"/>
<path d="M660.22 744.10V729.90q0 -1 1 -1h2.2q1 0 1 1V744.10z" fill="#000"/>
<path d="M698.44 744.10V736.70q0 -1 1 -1h2.2q1 0 1 1V744.10z" fill="#000"/>
<path d="M730.74 744.10V736.70q0 -1 1 -1h2.2q1 0 1 1V744.10z" fill="#000"/>
<path d="M758.73 744.10V736.70q0 -1 1 -1h2.2q1 0 1 1V744.10z" fill="#000"/>
<path d="M783.42 744.10V736.70q0 -1 1 -1h2.2q1 0 1 1V744.10z" fill="#000"/>
<path d="M805.50 744.10V722.50q0 -1 1 -1h2.2q1 0 1 1V744.10z" fill="#000"/>
<path d="M950.78 744.10V736.70q0 -1 1 -1h2.2q1 0 1 1V744.10z" fill="#000"/>
<path d="M1035.76 744.10V736.70q0 -1 1 -1h2.2q1 0 1 1V744.10z" fill="#000"/>
<path d="M1096.05 744.10V736.70q0 -1 1 -1h2.2q1 0 1 1V744.10z" fill="#000"/>
<path d="M1142.82 744.10V729.90q0 -1 1 -1h2.2q1 0 1 1V744.10z" fill="#000"/>
<path d="M1181.04 744.10V736.70q0 -1 1 -1h2.2q1 0 1 1V744.10z" fill="#000"/>
<path d="M1213.34 744.10V736.70q0 -1 1 -1h2.2q1 0 1 1V744.10z" fill="#000"/>
<path d="M1241.33 744.10V736.70q0 -1 1 -1h2.2q1 0 1 1V744.10z" fill="#000"/>
<path d="M1266.02 744.10V736.70q0 -1 1 -1h2.2q1 0 1 1V744.10z" fill="#000"/>
<path d="M1288.10 744.10V722.50q0 -1 1 -1h2.2q1 0 1 1V744.10z" fill="#000"/>
<path d="M1433.38 744.10V736.70q0 -1 1 -1h2.2q1 0 1 1V744.10z" fill="#000"/>
<path d="M1518.36 744.10V736.70q0 -1 1 -1h2.2q1 0 1 1V744.10z" fill="#000"/>
<path d="M1578.65 744.10V736.70q0 -1 1 -1h2.2q1 0 1 1V744.10z" fill="#000"/>
<path d="M1625.42 744.10V729.90q0 -1 1 -1h2.2q1 0 1 1V744.10z" fill="#000"/>
<path d="M1663.64 744.10V736.70q0 -1 1 -1h2.2q1 0 1 1V744.10z" fill="#000"/>
<path d="M1695.94 744.10V736.70q0 -1 1 -1h2.2q1 0 1 1V744.10z" fill="#000"/>
<path d="M1723.93 744.10V736.70q0 -1 1 -1h2.2q1 0 1 1V744.10z" fill="#000"/>
<path d="M1748.62 744.10V736.70q0 -1 1 -1h2.2q1 0 1 1V744.10z" fill="#000"/>
<path d="M1770.70 744.10V722.50q0 -1 1 -1h2.2q1 0 1 1V744.10z" fill="#000"/>
<path d="M1915.98 744.10V736.70q0 -1 1 -1h2.2q1 0 1 1V744.10z" fill="#000"/>
<path d="M2000.96 744.10V736.70q0 -1 1 -1h2.2q1 0 1 1V744.10z" fill="#000"/>
<path d="M2061.25 744.10V736.70q0 -1 1 -1h2.2q1 0 1 1V744.10z" fill="#000"/>
<path d="M2108.02 744.10V729.90q0 -1 1 -1h2.2q1 0 1 1V744.10z" fill="#000"/>
<text transform="translate(1132.5 599.95) scale(1 1.01)" text-anchor="middle" class="t30">Col</text>
<line x1="138.5" y1="813.20" x2="2125" y2="813.20" stroke="#d9d9d9" stroke-width="2.7"/>
<line x1="130.5" y1="813.20" x2="138.5" y2="813.20" stroke="#d4d4d4" stroke-width="3.6"/>
<text transform="translate(122.2 824.00) scale(1 1.01)" text-anchor="end" class="t30">100.0</text>
<line x1="138.5" y1="843.23" x2="2125" y2="843.23" stroke="#d9d9d9" stroke-width="2.7"/>
<line x1="130.5" y1="843.23" x2="138.5" y2="843.23" stroke="#d4d4d4" stroke-width="3.6"/>
<text transform="translate(122.2 854.02) scale(1 1.01)" text-anchor="end" class="t30">97.5</text>
<line x1="138.5" y1="873.25" x2="2125" y2="873.25" stroke="#d9d9d9" stroke-width="2.7"/>
<line x1="130.5" y1="873.25" x2="138.5" y2="873.25" stroke="#d4d4d4" stroke-width="3.6"/>
<text transform="translate(122.2 884.05) scale(1 1.01)" text-anchor="end" class="t30">95.0</text>
<line x1="138.5" y1="903.28" x2="2125" y2="903.28" stroke="#d9d9d9" stroke-width="2.7"/>
<line x1="130.5" y1="903.28" x2="138.5" y2="903.28" stroke="#d4d4d4" stroke-width="3.6"/>
<text transform="translate(122.2 914.08) scale(1 1.01)" text-anchor="end" class="t30">92.5</text>
<line x1="138.5" y1="933.30" x2="2125" y2="933.30" stroke="#d9d9d9" stroke-width="2.7"/>
<line x1="130.5" y1="933.30" x2="138.5" y2="933.30" stroke="#d4d4d4" stroke-width="3.6"/>
<text transform="translate(122.2 944.10) scale(1 1.01)" text-anchor="end" class="t30">90.0</text>
<line x1="325.00" y1="807.40" x2="325.00" y2="938.90" stroke="#d9d9d9" stroke-width="3.2"/>
<line x1="807.60" y1="807.40" x2="807.60" y2="938.90" stroke="#d9d9d9" stroke-width="3.2"/>
<line x1="1290.20" y1="807.40" x2="1290.20" y2="938.90" stroke="#d9d9d9" stroke-width="3.2"/>
<line x1="1772.80" y1="807.40" x2="1772.80" y2="938.90" stroke="#d9d9d9" stroke-width="3.2"/>
<g transform="scale(.1)" fill="none" stroke="#f3962a" stroke-width="10"><path d="M20350 8309l-840 23-920-19-629-1-175 10-476 72-240 16-400 5-560 26-200-2-320-16-600 8-120 8-47 13-11 20 3 10 95 17 280 18 480 8 480 30 147 17 70 20 120 60 22 20 2 10-21 20-28 10-142 30-42 20 10 10 104 30 13 20-4 70 97 40 77 50 4 10-6 10-34 30 24 40-7 10-29 10-697 71-400-4-720 16-149 17-251 58-200 16-1080-3-640 53-480-16-360 0-400 26-400 1-520-20-200-14-160 5-120-6-142-20-97-30-81-16-61-24-35-40-69-30-6-10 32-30-9-10-59-20 2-10 85-14 200-6 41-10-134-40-182-40-16-10-12-40 25-30-3-30 37-20 78-20 1-10-47-20-9-10 80-50 76-20 225-40-380-60-23-10 8-10 115-20 200-15 520-4 211-31 28-10 8-10-16-30 4-10 18-10 201-40-6-10-242-40-2-10 124-30 2-10-23-20-3-20-57-30 5-10 148-43 80-14 160-9 360-3 440 23 440-18 400 4 159-10M17605 8132l105 33 120 9 640-2 1040-29 440 2 400 15M7950 9144l240-6 120 11 39 13-12 10-107 14-160 3-120-7M8550 9294l-280 5-120-10-30-7-5-10 39-10 116-9 280 1 92 8 31 10-20 10-103 12" stroke="#f4b060" stroke-opacity="0.42"/>
<path d="M20350 8287l-400 19-520 9-1480-31-280 17-200 39-120 14-480 31-840 22-400-12-640-2-429 29-79 10 27 20 2 10-43 30 6 10 36 16 80 14 280 5 280 25 440-1 320 11 200 16 135 34 50 30-1 10-24 18-80 22-131 20-20 10-9 51 9 9 96 30 2 10-27 13-123 27 73 40 143 30 28 20 96 30 6 10-28 30 15 30-10 10-80 14-440 47-440-4-360 18-480 6-520 68-80 0-129-19-71-3-227 23-373-5-680 54-400-17-720-1-120 8-160 24-120 5-297-28-41-10-6-10 20-10 84-17 320 13 96-6 3-10-85-10-294-5-80-7-22-8 24-40 2-10-16-10-204-30 4-10 61-10 391-15 158-15 11-10-296-60-70-20-15-10 0-10 34-30-111-40 3-30-34-30 14-10 186-25 18-5 7-10-45-20-162-40-7-10 21-20-13-10-344-50-66-20 15-10 264-30 152-41 200-26 440 1 360-26 360 6 194-4 17-20 54-20-3-10-189-50 487-42 71-28 32-40 77-60 87-30 133-11 835-9M17412 8132l66 10 112 41 160 15 680-6 1120-32 400 6 400 19M11990 8224l-152-2-112-20 29-10 155-14 236 4 37 10-19 10-174 22M11030 8252l-91 0 31-10 60-2 32 2-32 10M11790 8365l-120 6-360-9-554-30 28-10 246-31 280-4 164 15 116 39 255 11-18 10-37 3M13797 8592l-45-10-42 0-18 10 105 0M13841 8802l-5-10-86-8-130 8 130 13 91-3M13578 8912l132-7 76-13 1-10-21-10-96-18-120 0-91 8-82 20-16 10-1 10 70 12 148-2M13373 8952l-46-20-57-5-104 5-43 10 27 13 80 6 143-9M13536 9052l30-10-13-10-83-9-120 4-39 5-16 10 14 10 41 5 186-5" stroke="#f4ad5b" stroke-opacity="0.46"/>
<path d="M20350 8271l-440 24-520 7-1480-44-320 32-200 40-120 13-560 30-720 8-720-2-360-9-320 9-40-4-320-68-80-4-120 10-191 29-2 10 312 30-2 10-77 30 6 10 144 40 65 50 2 10-17 14-40 9-120 3-360-33-148-3-310 30-60 10-12 10 170 47 40 5 560 27 560-5 80-9 53-25 52-10 175-9 800 1 167 8 171 20 78 20 5 10-21 10-247 30-214 50-35 20-264 23-46 7-16 10 21 10 122 20 21 10-35 20-5 10 18 5 279 25 35 10 16 20 30 10 366 50 24 10 1 10-19 20-8 20-15 10-279 40-150 12-520-7-360 22-360-19-120 0-80 7-134 35-146 10-360-21-280 23-200 7-329 41-391 22-320-21-320 5-160-5-320-29-280-14-77-8-31-10 7-10 43-20-16-20 7-10 34-10 271-30 63-10 17-10-78-25-280-31-93-24-8-10 21-11 228-29 61-10 22-10-35-10-236-22-63-18-5-10 13-10 134-30 7-10-220-70 10-10 104-30 4-10-144-35-202-35-15-10 223-50 76-10 758-28 240 4 320 28 600-3 120-9 69-22 23-30 28-20-10-10-270-22-50-8-20-10 8-10 28-10 141-40 5-10-36-20-10-10 0-10 56-40 17-30 47-20 94-10 280-2 288-18 472-1 328-19M17254 8132l136 18 79 32 83 20 238 20 520-9 800-34 400-7 400 5 440 25M13208 8742l274-10 75-10 0-10-61-20-41-30-65-16-120-9-140 5-70 10-63 20-22 20 4 20 57 20 172 10M13309 9102l401-14 360 0 120-8 80-17 4-11-228-40 10-10 228-30 42-10 1-10-105-40-206-40-25-10 11-10 108-22 19-8-2-10-63-30-114-16-200-10-200 0-200 11-240 23-320 3-80 7-21 12 12 20 25 20 64 16 187 24-4 10-143 29-360 3-65 8 13 10 92 11 280 4 80 7 183 58 12 10-6 10-57 20-10 10 34 10 124 11 159-1" stroke="#f4ab55" stroke-opacity="0.51"/>
<path d="M17133 8132l167 20 150 50 202 40 6 10-73 20-275 53-680 35-1320 3-520-14-240-17-227-50-253-37-160-4-360 21 15 10 185 7 93 13 2 10-40 10-200 30-19 10 1 10 43 15 208 25 65 40 92 30 14 10-5 10-54 7-240-3-360 8-120-6-40-10-14-16 23-20 131-30-10-10-330-29-42-11 0-10 14-10 129-40-12-10-82-20-4-10 119-50 78-10 440-17 320 12 480-61 625-14M20350 8252l-120 17-241 13-599 9-906-29-103-10-3-10 188-20 424-27 480-14 280 1 320 12 200 14 80 15M11390 8754l-200-5-118-17-59-20 2-10 15-5 153-35-10-10-191-40-35-20-5-10 63-20 188-30 357-7 80 5 200 30 160 6 400-27 240-1 168 14 271 50-20 10-179 28-200 16-160 2-217-16-183-4-480 4-170 10-152 20-20 10 12 10 128 40 10 10-48 12M14950 8916l-160-1-480-38-85-15 7-10 74-20 45-30 475-30 62-10 11-10-69-12-280-2-160-9-139-27-14-10 19-10 134-12 360-10 54-8 66-23 120-10 516 13 204 15 41 5 11 10-70 30-91 20-371 26-110 14-86 20-14 10 0 10 50 40-19 30 27 20 0 10-48 14-80 10M12670 8743l-120-1-200-15-113-15-26-10 7-10 92-15 200-9 120 23 61 21 20 20-41 11M12470 8844l-80 6-400-13-101-15-58-20 399-34 160 0 40 5 47 19 26 30-4 10-29 12M11990 8924l-240 6-77-8-24-10 24-20 37-12 80-14 120-9 320 13 240-5 192 27-2 10-30 3-360 4-280 15M15630 9094l-680-8-280-10-120-11-235-53 75-14 263-16 102-30 115-15 640-3 478 58 42 10 11 10-37 30-54 17-320 35M11950 9193l-240-1-347-30-61-10-5-10 14-10 2-10-121-30 23-10 322-40 14-10-13-30 12-10 80-18 120-7 320 26 574-1 106 11 105 29 11 10-211 30 184 40 24 20-11 10-35 10-227 8-280 27-360 6M12118 9092l0-10-23-10-65-7-120 7-51 10 28 10 103 7 80 1 48-8" stroke="#f4a850" stroke-opacity="0.55"/>
<path d="M17038 8132l111 10 108 20 133 45 133 35 10 10-16 10-168 40-119 18-760 28-1240-4-440-11-200-20-364-81-48-20 18-10 154-26 240-23 656-21M19950 8273l-320 8-400-4-342-15-106-10-33-10 89-20 272-24 320-9 320 1 400 20 99 12 30 10-1 10-48 12-280 19M13310 8372l-120-6-26-4-13-10 87-20 152-8 33 8-9 20-24 11-80 9M13590 8474l-120 5-89-7 6-10 43-6 120-5 101 11-61 12M11790 8613l-480 3-80-6-43-8-10-10 47-20 52-10 194-10 424 40 16 10-120 11M12710 8615l-320-1-184-12 5-10 125-20 174-8 116 8 104 20 23 10-17 10-26 3M15510 8693l-160 6-55-7-28-10-6-10 49-9 120 2 80 10 17 7-17 11M14630 8713l-102-1-74-10 4-10 52-5 160-1 54 6 5 10-99 11M14710 8862l-127 0-63-10 34-20 36-11 107-9 93 0 64 10 4 10-68 19-80 11M15550 9074l-200 5-327-7-233-10-96-10-35-10 2-10 9-2 360-55 240-17 160-1 335 35 64 10 22 10-12 10-49 13-240 39M11710 9154l-120-1-44-11 84-6 61 6 25 10-6 2" stroke="#f4a64a" stroke-opacity="0.60"/>
<path d="M16953 8132l122 10 115 20 235 80 11 10-11 10-115 32-120 17-760 25-1520-12-200-14-240-43-160-45-11-10 19-10 52-10 260-24 728-36M19670 8272l-530-10-131-10-50-10 0-10 109-20 242-14 320-3 280 10 213 17 40 10-8 10-188 20-297 10M15390 9062l-238 0-179-10-65-10 21-10 221-37 120-11 120-1 89 9 80 20-3 10-49 20-117 20" stroke="#f4a345" stroke-opacity="0.65"/>
<path d="M16862 8132l147 10 123 20 99 30 112 50 10 10-8 10-75 24-120 18-720 21-480-8-560 2-440-6-200-16-240-41-105-34-3-10 68-16 991-64M19750 8263l-440-5-160-12-52-14 26-10 66-8 160-9 440 2 200 15 41 10-16 10-75 10-190 11" stroke="#f3a040" stroke-opacity="0.69"/>
<path d="M16733 8132l211 10 136 20 128 40 66 40 7 10-7 10-59 20-105 14-600 18-480-9-600 5-400-6-184-12-261-40-45-10-44-20 7-10 46-10 761-58 276-12M15965 8132l398 0M19790 8252l-360 1-157-11-41-10 25-10 130-10 323 0 157 10 43 10-21 10-99 10" stroke="#f39e3a" stroke-opacity="0.73"/>
<path d="M16670 8303l-560-8-640 6-360-5-203-14-258-40-38-10-12-10 24-10 87-9 200-13 361-38 239-14 1280 0 186 14 96 20 92 30 43 30 12 20-34 20-115 18-400 13M19750 8242l-200 5-120-5-58-10 58-11 200-2 158 13-38 10" stroke="#f39b35" stroke-opacity="0.78"/>
<path d="M16830 8292l-240 2-440-8-640 8-320-4-215-18-192-40-12-10 454-60 285-20 1240-1 160 10 80 12 133 39 37 30 3 20-53 21-120 13-160 6" stroke="#f3992f" stroke-opacity="0.82"/>
<path d="M16910 8283l-280 3-440-8-920 6-200-16-56-16-46-30 46-20 136-24 360-32 1200-2 226 18 123 30 42 20 17 30-29 20-59 12-120 9" stroke="#f3962a" stroke-opacity="0.87"/>
<path d="M16950 8272l-200 7-520-8-880 8-217-17-56-20-26-20 3-10 23-10 97-20 336-32 200-5 1000 4 175 13 162 40 26 20 3 10-6 12-43 18-77 10" stroke="#f3962a" stroke-opacity="0.92"/>
<path d="M15670 8272l-400-5-102-15-58-30 1-10 17-10 93-20 169-20 200-12 1160 6 120 12 110 24 47 20 9 20-8 10-38 14-160 14-600-4-560 6" stroke="#f3962a" stroke-opacity="0.96"/>
<path d="M16830 8262l-1440 4-160-15-56-19-14-10-2-10 53-20 99-16 280-22 1080 5 200 18 68 15 51 20 8 10-3 10-15 10-69 15-80 5" stroke="#f3962a" stroke-opacity="1.00"/>
<path d="M16830 8254l-1400 6-160-15-46-13-18-10-4-10 28-13 82-17 278-23 1040 5 160 10 139 28 20 10 7 10-6 10-40 13-80 9" stroke="#f3962a" stroke-opacity="1.00"/>
<path d="M15990 8252l-520 2-120-7-76-15-22-10-6-10 53-20 153-20 173-10 1045 11 174 19 40 10 22 10 6 10-42 17-120 10-760 3" stroke="#f3962a" stroke-opacity="1.00"/>
<path d="M16670 8242l-1160 6-160-12-50-14-9-10 55-20 67-10 217-15 920 9 200 11 107 25 2 10-29 10-160 10" stroke="#f3962a" stroke-opacity="1.00"/>
<path d="M15990 8242l-440 1-160-12-40-11-9-8 14-10 120-20 155-10 920 11 160 9 88 20-8 11-80 10-720 9" stroke="#f3962a" stroke-opacity="1.00"/>
<path d="M16310 8232l-720 4-120-7-50-7-21-10 14-10 48-10 209-14 760 9 240 12 50 13-10 4-80 10-320 6" stroke="#f3962a" stroke-opacity="1.00"/>
<path d="M16430 8223l-680 8-200-7-74-12 11-10 63-10 280-8 720 17 48 11-168 11" stroke="#f3962a" stroke-opacity="1.00"/>
<path d="M15990 8222l-225 0-161-10 3-10 143-9 533 9 47 10-340 10" stroke="#f3962a" stroke-opacity="1.00"/></g>
<path d="M177.62 938.90V924.70q0 -1 1 -1h2.2q1 0 1 1V938.90z" fill="#000"/>
<path d="M215.84 938.90V931.50q0 -1 1 -1h2.2q1 0 1 1V938.90z" fill="#000"/>
<path d="M248.14 938.90V931.50q0 -1 1 -1h2.2q1 0 1 1V938.90z" fill="#000"/>
<path d="M276.13 938.90V931.50q0 -1 1 -1h2.2q1 0 1 1V938.90z" fill="#000"/>
<path d="M300.82 938.90V931.50q0 -1 1 -1h2.2q1 0 1 1V938.90z" fill="#000"/>
<path d="M322.90 938.90V917.30q0 -1 1 -1h2.2q1 0 1 1V938.90z" fill="#000"/>
<path d="M468.18 938.90V931.50q0 -1 1 -1h2.2q1 0 1 1V938.90z" fill="#000"/>
<path d="M553.16 938.90V931.50q0 -1 1 -1h2.2q1 0 1 1V938.90z" fill="#000"/>
<path d="M613.45 938.90V931.50q0 -1 1 -1h2.2q1 0 1 1V938.90z" fill="#000"/>
<path d="M660.22 938.90V924.70q0 -1 1 -1h2.2q1 0 1 1V938.90z" fill="#000"/>
<path d="M698.44 938.90V931.50q0 -1 1 -1h2.2q1 0 1 1V938.90z" fill="#000"/>
<path d="M730.74 938.90V931.50q0 -1 1 -1h2.2q1 0 1 1V938.90z" fill="#000"/>
<path d="M758.73 938.90V931.50q0 -1 1 -1h2.2q1 0 1 1V938.90z" fill="#000"/>
<path d="M783.42 938.90V931.50q0 -1 1 -1h2.2q1 0 1 1V938.90z" fill="#000"/>
<path d="M805.50 938.90V917.30q0 -1 1 -1h2.2q1 0 1 1V938.90z" fill="#000"/>
<path d="M950.78 938.90V931.50q0 -1 1 -1h2.2q1 0 1 1V938.90z" fill="#000"/>
<path d="M1035.76 938.90V931.50q0 -1 1 -1h2.2q1 0 1 1V938.90z" fill="#000"/>
<path d="M1096.05 938.90V931.50q0 -1 1 -1h2.2q1 0 1 1V938.90z" fill="#000"/>
<path d="M1142.82 938.90V924.70q0 -1 1 -1h2.2q1 0 1 1V938.90z" fill="#000"/>
<path d="M1181.04 938.90V931.50q0 -1 1 -1h2.2q1 0 1 1V938.90z" fill="#000"/>
<path d="M1213.34 938.90V931.50q0 -1 1 -1h2.2q1 0 1 1V938.90z" fill="#000"/>
<path d="M1241.33 938.90V931.50q0 -1 1 -1h2.2q1 0 1 1V938.90z" fill="#000"/>
<path d="M1266.02 938.90V931.50q0 -1 1 -1h2.2q1 0 1 1V938.90z" fill="#000"/>
<path d="M1288.10 938.90V917.30q0 -1 1 -1h2.2q1 0 1 1V938.90z" fill="#000"/>
<path d="M1433.38 938.90V931.50q0 -1 1 -1h2.2q1 0 1 1V938.90z" fill="#000"/>
<path d="M1518.36 938.90V931.50q0 -1 1 -1h2.2q1 0 1 1V938.90z" fill="#000"/>
<path d="M1578.65 938.90V931.50q0 -1 1 -1h2.2q1 0 1 1V938.90z" fill="#000"/>
<path d="M1625.42 938.90V924.70q0 -1 1 -1h2.2q1 0 1 1V938.90z" fill="#000"/>
<path d="M1663.64 938.90V931.50q0 -1 1 -1h2.2q1 0 1 1V938.90z" fill="#000"/>
<path d="M1695.94 938.90V931.50q0 -1 1 -1h2.2q1 0 1 1V938.90z" fill="#000"/>
<path d="M1723.93 938.90V931.50q0 -1 1 -1h2.2q1 0 1 1V938.90z" fill="#000"/>
<path d="M1748.62 938.90V931.50q0 -1 1 -1h2.2q1 0 1 1V938.90z" fill="#000"/>
<path d="M1770.70 938.90V917.30q0 -1 1 -1h2.2q1 0 1 1V938.90z" fill="#000"/>
<path d="M1915.98 938.90V931.50q0 -1 1 -1h2.2q1 0 1 1V938.90z" fill="#000"/>
<path d="M2000.96 938.90V931.50q0 -1 1 -1h2.2q1 0 1 1V938.90z" fill="#000"/>
<path d="M2061.25 938.90V931.50q0 -1 1 -1h2.2q1 0 1 1V938.90z" fill="#000"/>
<path d="M2108.02 938.90V924.70q0 -1 1 -1h2.2q1 0 1 1V938.90z" fill="#000"/>
<text transform="translate(1132.5 794.75) scale(1 1.01)" text-anchor="middle" class="t30">Dup</text>
<line x1="138.5" y1="1008.00" x2="2125" y2="1008.00" stroke="#d9d9d9" stroke-width="2.7"/>
<line x1="130.5" y1="1008.00" x2="138.5" y2="1008.00" stroke="#d4d4d4" stroke-width="3.6"/>
<text transform="translate(122.2 1018.80) scale(1 1.01)" text-anchor="end" class="t30">100.0</text>
<line x1="138.5" y1="1038.03" x2="2125" y2="1038.03" stroke="#d9d9d9" stroke-width="2.7"/>
<line x1="130.5" y1="1038.03" x2="138.5" y2="1038.03" stroke="#d4d4d4" stroke-width="3.6"/>
<text transform="translate(122.2 1048.83) scale(1 1.01)" text-anchor="end" class="t30">97.5</text>
<line x1="138.5" y1="1068.05" x2="2125" y2="1068.05" stroke="#d9d9d9" stroke-width="2.7"/>
<line x1="130.5" y1="1068.05" x2="138.5" y2="1068.05" stroke="#d4d4d4" stroke-width="3.6"/>
<text transform="translate(122.2 1078.85) scale(1 1.01)" text-anchor="end" class="t30">95.0</text>
<line x1="138.5" y1="1098.08" x2="2125" y2="1098.08" stroke="#d9d9d9" stroke-width="2.7"/>
<line x1="130.5" y1="1098.08" x2="138.5" y2="1098.08" stroke="#d4d4d4" stroke-width="3.6"/>
<text transform="translate(122.2 1108.88) scale(1 1.01)" text-anchor="end" class="t30">92.5</text>
<line x1="138.5" y1="1128.10" x2="2125" y2="1128.10" stroke="#d9d9d9" stroke-width="2.7"/>
<line x1="130.5" y1="1128.10" x2="138.5" y2="1128.10" stroke="#d4d4d4" stroke-width="3.6"/>
<text transform="translate(122.2 1138.90) scale(1 1.01)" text-anchor="end" class="t30">90.0</text>
<line x1="325.00" y1="1002.20" x2="325.00" y2="1133.70" stroke="#d9d9d9" stroke-width="3.2"/>
<line x1="807.60" y1="1002.20" x2="807.60" y2="1133.70" stroke="#d9d9d9" stroke-width="3.2"/>
<line x1="1290.20" y1="1002.20" x2="1290.20" y2="1133.70" stroke="#d9d9d9" stroke-width="3.2"/>
<line x1="1772.80" y1="1002.20" x2="1772.80" y2="1133.70" stroke="#d9d9d9" stroke-width="3.2"/>
<g transform="scale(.1)" fill="none" stroke="#b2181b" stroke-width="10"><path d="M20360 10265l-600 13-1600 2-162 10-358 42-320 14-1160 5-600-16-560 15-640-26-99-14-126-40-135-14-240-6-280 8-231 22-130 40-139 30-22 10-4 10 11 10 43 10 512 24 158 16 85 20 8 10-6 20-47 40-51 20-138 30-13 10 306 60 66 20 5 10-17 10-116 25-489 45-351 16-600-2-720-15-520 9-400-3-346 15-454 1-480-17-480 0-520-12-200-19-51-13-44-20-8-10 10-10 149-30 33-10 4-10-144-50 0-10 290-50 15-10-4-10-51-30 13-10 163-20 547-30 160-20 29-10-12-10-62-10-357-25-48-15-46-30-3-10 7-10 48-30-23-30-1-10 23-20 150-70 103-20M15560 10550l-720-2-280-10-305-38-91-20-34-20 3-10 23-10 124-22 240-23 240-13 200-3 1320 16 160 17 86 18 58 20 13 10 3 10-7 10-73 26-120 17-160 9-680 18M11667 10420l27-10-94-7-267 7 34 10 73 4 227-4M5200 10560l-400 5-160-8-106-17 9-10 56-10 121-10 360-3 160 10 91 13 11 10-36 10-106 10M17120 10593l-320 2-120-10-57-15 5-10 12-4 80-12 320-3 140 9 62 10 17 10-23 10-116 13M5400 10820l-520 8-360-6-520-47-360-21-71-14 18-10 64-10 269-18 280-4 320 7 541 45 579 19 133 11 34 10-47 13-360 17M16000 11020l-1320-3-253-27-78-20-26-20 21-20 28-10 188-30 480-28 153-32 106-10 181-7 200 3 120 9 71 15 4 10-49 20-5 10 419 35 105 25 8 10-5 10-78 30-110 19-160 11M9560 11010l-280 2-120-9-51-13 12-10 119-14 280-2 120 9 38 7 13 10-30 10-101 10M7640 11130l-1120 2-201-12-63-10-29-10-2-10 29-10 106-11 480-15 360-2 440 9 200 11 49 8 39 20-12 10-52 10-224 10M4160 11120l-360-2-120-10-52-8-13-10 105-18 160-9 240-1 239 8 125 10 40 10-30 10-334 20M10800 11170l-320-4-120-16-8-10 48-12 120-9 320 2 105 9 46 10 2 10-45 10-148 10M10749 11280l-17-10 28-11 240-15 240 10 69 16-16 10" stroke="#b2181b" stroke-opacity="0.55"/>
<path d="M20360 10250l-640 13-1080-3-640 7-200 8-240 30-200 9-480-7-680 8-440-13-560 9-640-19-267-42-213-18-440-8-560 23-240 49-120 12-353 12-687 38-320 4-520-36-320-30-720 3-520-12-166-17-8-10 23-10 111-17 400-10 51-3 15-10-66-23-80-14-280-23-33-10-7-10 8-10 72-20 200-9 320 7 400-9 360 5 372-14M11457 10080l703 6 320 9 274-15M18411 10080l1629 3 320 10M15800 10520l-440 7-600-10-280-22-88-15-30-10-10-10 48-19 76-11 284-15 1360 6 142 9 98 14 49 16 5 10-14 10-80 18-120 11-400 11M10400 10613l-160 4-161-7-314-30-32-10 42-20-15-6-680-18-120-9-45-7-19-10 24-12 80-12 400-16 160 7 101 13 139 49 40 5 480-17 191 3 235 40 0 10-346 43M11720 10711l-200 2-120-11-117-32-14-10-4-20-54-20-337-50 49-10 468-20 61-20 6-10-7-20 29-10 160-11 400-8 132 9 188 31 280 7 520-5 160 12 28 5 8 10-154 20-442 23-560 14-218 13-102 15-43 15 3 10 43 30-2 10-17 10-36 10-108 11M9040 10621l-200 1-161-12-51-10-11-10 103-17 400-10 279 7 88 10-146 20-301 21M12840 10722l-240 1-102-13-11-10 34-10 98-10 341-16 87-24 73-11 240 2 160 17 48 12-12 10-107 10-369 3-129 27-111 12M9920 10711l-240 2-360-20-600 13-132-6-48-10 8-10 92-13 240-7 288 10 192 17 440 5 121 8 9 10-10 1M15960 10993l-280 6-800-10-240-17-62-12-19-10 5-10 26-10 52-10 198-14 1040 12 184 12 58 10 22 10-4 10-23 10-157 23" stroke="#b2181b" stroke-opacity="0.60"/>
<path d="M20360 10241l-600 13-1960 4-600 21-1280-5-600 13-640-22-344-35-256-18-400-8-880 14-37 2-20 10 7 20-19 10-131 18-800 11-140 11-100 16-120 2-320-24-440-81-120-6-400 5-110-12 3-10 347-20 720-72 800 12 520 23 160-8 362-45M17890 10080l797 10 1353 2 320 11M16000 10501l-560 7-560-8-280-17-67-13-9-10 76-16 200-9 1200 2 199 13 48 10 12 10-19 10-62 10-178 11M15840 10972l-280 2-360-21-189-3 789-10 118 10 5 10-83 12" stroke="#b2181b" stroke-opacity="0.64"/>
<path d="M20360 10234l-240 10-400 4-2320-4-480 10-560-6-880 10-720-15-840-56-800 7-520-18-120 8-79 16-16 10 6 20-5 10-66 11-320 12-520 1-243-14-78-10-72-20 9-10 51-10 261-30 38-20 41-10 273-5 760 27 160-18 280-50 227-14M17613 10080l707 13 1680 5 360 12M16000 10481l-520 6-596-17 76-10 840-6 207 6 47 10-54 11" stroke="#b2181b" stroke-opacity="0.69"/>
<path d="M20360 10228l-560 15-1640 1-880-17-440 7-560-4-480 6-1000-9-800-56-880 5-200-10-75-16 38-20 90-20 227-21 1472-9M15501 10080l1859 3 1000 16 1640 4 360 13M11960 10241l-360 2-160-12-35-11 35-10 120-10 360-5 120 9 59 16-16 10-123 11" stroke="#b2181b" stroke-opacity="0.73"/>
<path d="M20360 10222l-480 16-1720 1-360-4-560-20-2360 1-320-15-520-48-840 5-160-8-38-10 9-10 33-10 59-10 177-12 800 0 920-17 2360 8 1560 17 1040 1 400 15" stroke="#b2181b" stroke-opacity="0.78"/>
<path d="M20360 10217l-200 12-320 5-1680 1-320-4-640-26-2320-2-373-23-405-50-20-10 638-27 360-6 1400 10 960 0 1440 13 1080 1 400 16M13560 10130l-240 6-104-6 26-10 158-6 249 6-89 10" stroke="#b2181b" stroke-opacity="0.82"/>
<path d="M20360 10212l-200 13-320 5-1680 2-320-6-640-29-920-7-640 7-680-6-200-7-160-13-151-21-74-20 31-10 123-10 551-17 1440 12 3440 9 240 6 160 12" stroke="#b2181b" stroke-opacity="0.86"/>
<path d="M20360 10207l-200 14-320 6-1800 0-840-37-880-11-760 8-600-10-275-17-117-20-6-10 158-20 400-11 1440 16 960-5 2400 7 280 7 160 13" stroke="#b2181b" stroke-opacity="0.91"/>
<path d="M20360 10202l-200 16-280 6-1800 1-280-8-440-30-800-21-1000 11-390-7-330-15-107-15-6-10 171-20 262-5 1400 22 1200-12 2160 5 240 5 200 17" stroke="#b2181b" stroke-opacity="0.96"/>
<path d="M15720 10160l-240 5-246-5-234-11-91-9-19-10 57-10 133-6 390 6 468 20-18 10-200 10M20360 10196l-160 16-320 9-1800 1-280-9-400-31-531-22-58-10 89-10 329-10 731-12 2000 5 240 8 160 16" stroke="#b2181b" stroke-opacity="1.00"/>
<path d="M15440 10141l-200 2-65-3-38-10 210 0 93 11M20360 10190l-183 20-297 8-1800 1-320-13-576-46-34-10 450-23 480-6 1880 5 240 8 160 20" stroke="#b2181b" stroke-opacity="1.00"/>
<path d="M20360 10181l-40 11-120 13-280 10-1800 1-384-16-261-30-61-10-2-10 228-18 280-7 1960 3 320 10 113 12 47 13" stroke="#b2181b" stroke-opacity="1.00"/>
<path d="M20000 10210l-1920 3-320-15-151-18-90-20 13-10 81-10 347-12 2040 5 240 12 80 13 24 12-24 14-80 14-240 12" stroke="#b2181b" stroke-opacity="1.00"/>
<path d="M19840 10210l-1773 0-337-20-121-20-20-10 23-10 88-10 300-10 2000 5 246 15 52 10 18 10-10 10-146 21-320 9" stroke="#b2181b" stroke-opacity="1.00"/>
<path d="M19480 10210l-1440-4-266-16-115-20-12-10 30-10 104-10 259-7 1960 5 160 8 108 14 20 10-12 10-48 10-228 14-520 6" stroke="#b2181b" stroke-opacity="1.00"/>
<path d="M20040 10200l-520 7-1400-2-301-15-114-20-8-10 103-16 240-8 1914 4 213 10 69 10 21 10-13 10-55 10-149 10" stroke="#b2181b" stroke-opacity="1.00"/>
<path d="M19920 10200l-1800 2-255-12-78-10-39-10-3-10 95-14 240-8 1840 4 200 8 82 10 24 10-16 10-66 10-224 10" stroke="#b2181b" stroke-opacity="1.00"/>
<path d="M19760 10200l-1602 0-244-10-124-20 2-10 60-10 228-9 1840 5 243 14 28 10-19 10-132 13-280 7" stroke="#b2181b" stroke-opacity="1.00"/>
<path d="M20000 10191l-520 8-1280-2-229-7-138-20 6-10 79-10 162-5 1760 3 280 12 33 10-24 10-129 11" stroke="#b2181b" stroke-opacity="1.00"/>
<path d="M19920 10190l-480 6-1240-2-200-7-122-17 12-10 30-4 200-8 1680 2 240 8 68 12-29 10-159 10" stroke="#b2181b" stroke-opacity="1.00"/>
<path d="M19760 10190l-1560 0-200-8-72-12 32-11 200-8 1640 4 195 5 59 10-54 11-240 9" stroke="#b2181b" stroke-opacity="1.00"/>
<path d="M19400 10190l-1200-5-152-5-61-10 40-10 133-4 1640 3 180 11-62 10-518 10" stroke="#b2181b" stroke-opacity="1.00"/>
<path d="M19720 10181l-1480-1-169-10 129-9 1280 1 378 8-138 11" stroke="#b2181b" stroke-opacity="1.00"/>
<path d="M19520 10172l-200 5-383-7 583 2" stroke="#b2181b" stroke-opacity="1.00"/></g>
<path d="M177.62 1133.70V1119.50q0 -1 1 -1h2.2q1 0 1 1V1133.70z" fill="#000"/>
<path d="M215.84 1133.70V1126.30q0 -1 1 -1h2.2q1 0 1 1V1133.70z" fill="#000"/>
<path d="M248.14 1133.70V1126.30q0 -1 1 -1h2.2q1 0 1 1V1133.70z" fill="#000"/>
<path d="M276.13 1133.70V1126.30q0 -1 1 -1h2.2q1 0 1 1V1133.70z" fill="#000"/>
<path d="M300.82 1133.70V1126.30q0 -1 1 -1h2.2q1 0 1 1V1133.70z" fill="#000"/>
<path d="M322.90 1133.70V1112.10q0 -1 1 -1h2.2q1 0 1 1V1133.70z" fill="#000"/>
<path d="M468.18 1133.70V1126.30q0 -1 1 -1h2.2q1 0 1 1V1133.70z" fill="#000"/>
<path d="M553.16 1133.70V1126.30q0 -1 1 -1h2.2q1 0 1 1V1133.70z" fill="#000"/>
<path d="M613.45 1133.70V1126.30q0 -1 1 -1h2.2q1 0 1 1V1133.70z" fill="#000"/>
<path d="M660.22 1133.70V1119.50q0 -1 1 -1h2.2q1 0 1 1V1133.70z" fill="#000"/>
<path d="M698.44 1133.70V1126.30q0 -1 1 -1h2.2q1 0 1 1V1133.70z" fill="#000"/>
<path d="M730.74 1133.70V1126.30q0 -1 1 -1h2.2q1 0 1 1V1133.70z" fill="#000"/>
<path d="M758.73 1133.70V1126.30q0 -1 1 -1h2.2q1 0 1 1V1133.70z" fill="#000"/>
<path d="M783.42 1133.70V1126.30q0 -1 1 -1h2.2q1 0 1 1V1133.70z" fill="#000"/>
<path d="M805.50 1133.70V1112.10q0 -1 1 -1h2.2q1 0 1 1V1133.70z" fill="#000"/>
<path d="M950.78 1133.70V1126.30q0 -1 1 -1h2.2q1 0 1 1V1133.70z" fill="#000"/>
<path d="M1035.76 1133.70V1126.30q0 -1 1 -1h2.2q1 0 1 1V1133.70z" fill="#000"/>
<path d="M1096.05 1133.70V1126.30q0 -1 1 -1h2.2q1 0 1 1V1133.70z" fill="#000"/>
<path d="M1142.82 1133.70V1119.50q0 -1 1 -1h2.2q1 0 1 1V1133.70z" fill="#000"/>
<path d="M1181.04 1133.70V1126.30q0 -1 1 -1h2.2q1 0 1 1V1133.70z" fill="#000"/>
<path d="M1213.34 1133.70V1126.30q0 -1 1 -1h2.2q1 0 1 1V1133.70z" fill="#000"/>
<path d="M1241.33 1133.70V1126.30q0 -1 1 -1h2.2q1 0 1 1V1133.70z" fill="#000"/>
<path d="M1266.02 1133.70V1126.30q0 -1 1 -1h2.2q1 0 1 1V1133.70z" fill="#000"/>
<path d="M1288.10 1133.70V1112.10q0 -1 1 -1h2.2q1 0 1 1V1133.70z" fill="#000"/>
<path d="M1433.38 1133.70V1126.30q0 -1 1 -1h2.2q1 0 1 1V1133.70z" fill="#000"/>
<path d="M1518.36 1133.70V1126.30q0 -1 1 -1h2.2q1 0 1 1V1133.70z" fill="#000"/>
<path d="M1578.65 1133.70V1126.30q0 -1 1 -1h2.2q1 0 1 1V1133.70z" fill="#000"/>
<path d="M1625.42 1133.70V1119.50q0 -1 1 -1h2.2q1 0 1 1V1133.70z" fill="#000"/>
<path d="M1663.64 1133.70V1126.30q0 -1 1 -1h2.2q1 0 1 1V1133.70z" fill="#000"/>
<path d="M1695.94 1133.70V1126.30q0 -1 1 -1h2.2q1 0 1 1V1133.70z" fill="#000"/>
<path d="M1723.93 1133.70V1126.30q0 -1 1 -1h2.2q1 0 1 1V1133.70z" fill="#000"/>
<path d="M1748.62 1133.70V1126.30q0 -1 1 -1h2.2q1 0 1 1V1133.70z" fill="#000"/>
<path d="M1770.70 1133.70V1112.10q0 -1 1 -1h2.2q1 0 1 1V1133.70z" fill="#000"/>
<path d="M1915.98 1133.70V1126.30q0 -1 1 -1h2.2q1 0 1 1V1133.70z" fill="#000"/>
<path d="M2000.96 1133.70V1126.30q0 -1 1 -1h2.2q1 0 1 1V1133.70z" fill="#000"/>
<path d="M2061.25 1133.70V1126.30q0 -1 1 -1h2.2q1 0 1 1V1133.70z" fill="#000"/>
<path d="M2108.02 1133.70V1119.50q0 -1 1 -1h2.2q1 0 1 1V1133.70z" fill="#000"/>
<text transform="translate(1132.5 989.55) scale(1 1.01)" text-anchor="middle" class="t30">Err</text>
<line x1="138.5" y1="1202.80" x2="2125" y2="1202.80" stroke="#d9d9d9" stroke-width="2.7"/>
<line x1="130.5" y1="1202.80" x2="138.5" y2="1202.80" stroke="#d4d4d4" stroke-width="3.6"/>
<text transform="translate(122.2 1213.60) scale(1 1.01)" text-anchor="end" class="t30">100.0</text>
<line x1="138.5" y1="1232.83" x2="2125" y2="1232.83" stroke="#d9d9d9" stroke-width="2.7"/>
<line x1="130.5" y1="1232.83" x2="138.5" y2="1232.83" stroke="#d4d4d4" stroke-width="3.6"/>
<text transform="translate(122.2 1243.63) scale(1 1.01)" text-anchor="end" class="t30">97.5</text>
<line x1="138.5" y1="1262.85" x2="2125" y2="1262.85" stroke="#d9d9d9" stroke-width="2.7"/>
<line x1="130.5" y1="1262.85" x2="138.5" y2="1262.85" stroke="#d4d4d4" stroke-width="3.6"/>
<text transform="translate(122.2 1273.65) scale(1 1.01)" text-anchor="end" class="t30">95.0</text>
<line x1="138.5" y1="1292.88" x2="2125" y2="1292.88" stroke="#d9d9d9" stroke-width="2.7"/>
<line x1="130.5" y1="1292.88" x2="138.5" y2="1292.88" stroke="#d4d4d4" stroke-width="3.6"/>
<text transform="translate(122.2 1303.68) scale(1 1.01)" text-anchor="end" class="t30">92.5</text>
<line x1="138.5" y1="1322.90" x2="2125" y2="1322.90" stroke="#d9d9d9" stroke-width="2.7"/>
<line x1="130.5" y1="1322.90" x2="138.5" y2="1322.90" stroke="#d4d4d4" stroke-width="3.6"/>
<text transform="translate(122.2 1333.70) scale(1 1.01)" text-anchor="end" class="t30">90.0</text>
<line x1="325.00" y1="1197.00" x2="325.00" y2="1328.50" stroke="#d9d9d9" stroke-width="3.2"/>
<line x1="325.00" y1="1328.50" x2="325.00" y2="1336.80" stroke="#d4d4d4" stroke-width="3.6"/>
<line x1="807.60" y1="1197.00" x2="807.60" y2="1328.50" stroke="#d9d9d9" stroke-width="3.2"/>
<line x1="807.60" y1="1328.50" x2="807.60" y2="1336.80" stroke="#d4d4d4" stroke-width="3.6"/>
<line x1="1290.20" y1="1197.00" x2="1290.20" y2="1328.50" stroke="#d9d9d9" stroke-width="3.2"/>
<line x1="1290.20" y1="1328.50" x2="1290.20" y2="1336.80" stroke="#d4d4d4" stroke-width="3.6"/>
<line x1="1772.80" y1="1197.00" x2="1772.80" y2="1328.50" stroke="#d9d9d9" stroke-width="3.2"/>
<line x1="1772.80" y1="1328.50" x2="1772.80" y2="1336.80" stroke="#d4d4d4" stroke-width="3.6"/>
<g transform="scale(.1)" fill="none" stroke="#8f8f8f" stroke-width="10"><path d="M8600 12359l120-10 400 2 133-13-1-10-52-22-93-68-2-10 26-40-39-40-6-20 36-20 158-38 120-12 646-30M11974 12028l266 12 307-12M20360 12216l-440 18-1360-2-400 5-160 12-52 9-25 10-1 10 38 23 101 37 24 20 5 20-17 30-46 40-107 50-5 10 25 30-8 10-370 70-82 7-640 3-400-10-560 18-153-8-207-33-160-7-160 8-720 70-320 7-1240-9-1680 1-440-11-440-34-160-3-600 26-40 7-21 28-59 13-160 12-200 3-218-8-140-20-26-10-44-40-92-53M8600 12491l194-33 61-20-7-10-34-10-214-35M16080 12939l-1520-8-169-23-138-50-32-20-2-10 27-20 194-69 160-21 1440 6 200 18 141 26 67 30 26 40-12 20-15 10-127 43-120 21-120 7M11040 13008l-440-7-191-13-54-10 2-10 61-10 242-20 5-10-229-40-77-20 2-10 34-10 125-15 400-21 840-5 240 9 318 22 141 20 26 10 3 10-69 20-259 24-719 26-54 10-15 20-52 13-280 17M10920 13118l-400-5-161-15-1-10 122-15 200-9 400 4 125 10 36 10-24 10-297 20M10735 13228l-79-10-11-10 46-10 309-14 196 4 120 10 42 10-7 10-68 10" stroke="#8f8f8f" stroke-opacity="0.36"/>
<path d="M20360 12196l-440 18-1680 0-343 14-144 20-35 10-10 10 30 20 158 70 19 20-2 10-94 60-206 80-173 28-200 16-640 8-800-27-400-36-440-19-720-8-200-8-72-14-5-10 35-30-43-30 1-10 36-20-5-10-267-44-200-15-174-1-173 10-24 10 0 10-16 10-133 18-360 9-320-1-280-24-280 15-200-2-185-25-61-30-154-12-177 12-22 10 65 30-32 10-74 6-880-1-160-8-314-57-126-45-12-5-2-10 108-40 45-30 61-18 400-72 120-11 240-8 760-7 200 4 90 12-32 10-242 20-44 10 388 28 280 36 200 5 240-12 177-17 47-10 10-10-156-30 15-10 503-50M20299 12028l61 3M10976 12228l57-10-233-5-145 5-16 10 121 5 216-5M12351 12268l89-7 61-13 5-10-21-10-85-12-240-3-120 12-25 13 25 12 80 14 231 4M14200 12640l-320 8-560-15-640 9-720-8-680 5-436-21-444-44-320-9-56-7-7-10 37-20 57-10 289-12 160 7 160 36 200 10 520 10 760-11 345-30 57-10 13-20 29-10 125-20 151-11 160-2 166 13 24 10 13 20 20 10 65 10 432 17 720 49 23 4 11 10-76 20-278 22M15800 12898l-1120-16-200-24-40-11-17-9-3-10 43-20 137-28 240-20 360-5 760 12 142 11 98 20 50 30-1 20-48 20-81 14-320 16M11680 12909l-280 1-320-9-173-13-54-10-17-10 19-10 63-10 202-13 360-6 280 6 251 23 51 10 8 10-145 20-245 11" stroke="#8f8f8f" stroke-opacity="0.40"/>
<path d="M20360 12183l-400 18-1800 2-352 15-167 20-91 20-11 10 13 10 219 80 25 20-3 10-131 60-200 60-107 20-235 19-320 12-240-1-600-22-85-8-112-30-163-14-1120-20-160-8-85-18-40-30 0-10 46-30 0-10-255-50-10-10 91-30 1-10-148-28-280-7-280 27-160 7-160-2-160-14-80-16-178-57 8-10 72-30 3-10-58-30 3-10 170-30 260-20M19854 12028l306 5 200 11M14000 12619l-227-1-102-10-80-20 81-10 128-3 240 7 111 16-26 10-125 11M12840 12610l-200-1-54-11 32-10 62-5 160 1 65 4 31 10-96 12M15840 12858l-200 3-320-14-520 7-120-9-39-7-8-10 85-20 102-10 340-7 400 25 320 9 61 13-14 10-87 10M11480 12879l-163-1-92-10 86-10 167 0 100 10-98 11" stroke="#8f8f8f" stroke-opacity="0.45"/>
<path d="M20360 12173l-160 12-280 8-1880 2-398 23-176 20-123 30-3 10 28 10 152 33 160 47 10 10-4 10-18 10-108 35-226 45-94 30-80 12-320 21-320 0-320-13-88-10-35-20-35-10-282-19-1120-20-200-11-58-10-39-20 3-10 17-10 88-30 5-10-28-10-143-20-21-10 56-10 240-13 47-7-3-10-284-28-55-12-79-30-106-12-920-13-240-19-22-6-36-30-39-20-13-10 6-10 90-20 94-11 280-12 840 0 342-7M17804 12028l2076 8 280 6 200 13" stroke="#8f8f8f" stroke-opacity="0.49"/>
<path d="M20360 12164l-200 16-240 5-960-3-1000 7-280 12-680 49-1480 2-80 6-43 10-12 10 15 17 33 13 87 10 800-34 600 1 400 41 200 30 58 22-4 10-56 20-118 24-160 14-960 18-720-20-800-6-200-11-56-9-23-10 2-10 59-20 315-70 43-30 13-20-33-16-360-27-271-37-169-15-938-25-102-18-62-22-11-10 13-10 43-10 217-17 880-3 613-20M16034 12028l170 0M17525 12028l515 12 1880 3 280 8 160 13M16800 12518l-195 0-16-10 251-1-40 11" stroke="#8f8f8f" stroke-opacity="0.54"/>
<path d="M20360 12154l-160 17-240 7-1920 3-1000 24-760 28-960-4-760-35-480-51-422-35-61-10 3-10 80-10 440-13 680-32 1360 3 344-8M17114 12028l886 19 1960 3 240 8 160 16M16680 12438l-480 6-680-20-640 2-182-8-60-10-8-10 65-20 105-17 240-19 440 25 120-7 203-32 237-15 240-3 280 14 244-6 541 40 64 10 27 10-2 10-74 20-160 17-520 13" stroke="#8f8f8f" stroke-opacity="0.58"/>
<path d="M20360 12143l-120 18-240 11-1200-2-1600 14-1000 33-440 5-1160-39-325-35-129-20-73-20 1-10 42-10 93-10 551-37 360-4 1040 8 600-16 1160 24 2040 3 240 9 160 20M16840 12419l-560 7-320-11-172-17 9-10 83-35 125-15 155 0 320 20 440-5 231 15 56 10 5 10-140 20-232 11M15160 12399l-160 9-151-10 31-12 120-8 147 10 23 10-10 1" stroke="#8f8f8f" stroke-opacity="0.63"/>
<path d="M20360 12126l-40 15-80 13-240 12-2760 2-560 20-480 4-440 15-436-19-444-5-240-10-322-35-84-20-13-10 19-11 120-16 440-33 360-4 960 12 640-21 1080 24 840-4 1280 7 280 13 84 13 36 14M16680 12408l-335 0-130-10-35-10 100-9 535-1 68 10-49 10-154 10" stroke="#8f8f8f" stroke-opacity="0.68"/>
<path d="M15800 12180l-960-10-240-12-184-20-81-20-4-10 30-10 359-36 240-10 1160 15 640-25 960 24 960-5 1240 6 320 16 70 15 17 10 1 10-41 20-58 10-269 14-2080 1-600-8-640 21-520-7-320 11" stroke="#8f8f8f" stroke-opacity="0.72"/>
<path d="M16720 12159l-200 3-560-10-880 9-440-13-177-20-29-10 6-10 80-14 299-26 221-8 1040 19 240-4 440-22 880 22 960-9 1280 6 320 14 63 12 21 10 2 10-46 19-80 11-240 9-1960 1-640-16-320 5-280 12" stroke="#8f8f8f" stroke-opacity="0.76"/>
<path d="M20040 12148l-2040 4-600-23-840 15-720-7-680 7-440-8-118-8-42-10 23-10 97-9 400-25 1120 17 600-20 800 16 520-12 680-4 1280 13 130 14 27 10 3 10-66 20-134 10" stroke="#8f8f8f" stroke-opacity="0.81"/>
<path d="M20080 12139l-240 6-1840 1-280-12-106-16 0-10 242-20 491-10 1533 6 160 4 120 13 23 7 4 10-24 10-83 11M17320 12109l-240 9-198-10 32-10 206-9 209 9 4 10-13 1M15520 12109l-171-1 171 1M16160 12118l-229 0 109-6 120 6" stroke="#8f8f8f" stroke-opacity="0.85"/>
<path d="M18520 12138l-480 2-243-12-43-10 16-10 82-10 348-12 560-3 1160 9 133 6 61 10 7 10-81 14-160 5-1360 1" stroke="#8f8f8f" stroke-opacity="0.90"/>
<path d="M19080 12128l-960 4-167-4-72-10 22-10 137-10 800-8 1157 18 12 10-129 7-800 3" stroke="#8f8f8f" stroke-opacity="0.94"/>
<path d="M18880 12118l-765 0 44-10 521-8 391 8-191 10" stroke="#8f8f8f" stroke-opacity="0.99"/></g>
<path d="M177.62 1328.50V1314.30q0 -1 1 -1h2.2q1 0 1 1V1328.50z" fill="#000"/>
<path d="M215.84 1328.50V1321.10q0 -1 1 -1h2.2q1 0 1 1V1328.50z" fill="#000"/>
<path d="M248.14 1328.50V1321.10q0 -1 1 -1h2.2q1 0 1 1V1328.50z" fill="#000"/>
<path d="M276.13 1328.50V1321.10q0 -1 1 -1h2.2q1 0 1 1V1328.50z" fill="#000"/>
<path d="M300.82 1328.50V1321.10q0 -1 1 -1h2.2q1 0 1 1V1328.50z" fill="#000"/>
<path d="M322.90 1328.50V1306.90q0 -1 1 -1h2.2q1 0 1 1V1328.50z" fill="#000"/>
<path d="M468.18 1328.50V1321.10q0 -1 1 -1h2.2q1 0 1 1V1328.50z" fill="#000"/>
<path d="M553.16 1328.50V1321.10q0 -1 1 -1h2.2q1 0 1 1V1328.50z" fill="#000"/>
<path d="M613.45 1328.50V1321.10q0 -1 1 -1h2.2q1 0 1 1V1328.50z" fill="#000"/>
<path d="M660.22 1328.50V1314.30q0 -1 1 -1h2.2q1 0 1 1V1328.50z" fill="#000"/>
<path d="M698.44 1328.50V1321.10q0 -1 1 -1h2.2q1 0 1 1V1328.50z" fill="#000"/>
<path d="M730.74 1328.50V1321.10q0 -1 1 -1h2.2q1 0 1 1V1328.50z" fill="#000"/>
<path d="M758.73 1328.50V1321.10q0 -1 1 -1h2.2q1 0 1 1V1328.50z" fill="#000"/>
<path d="M783.42 1328.50V1321.10q0 -1 1 -1h2.2q1 0 1 1V1328.50z" fill="#000"/>
<path d="M805.50 1328.50V1306.90q0 -1 1 -1h2.2q1 0 1 1V1328.50z" fill="#000"/>
<path d="M950.78 1328.50V1321.10q0 -1 1 -1h2.2q1 0 1 1V1328.50z" fill="#000"/>
<path d="M1035.76 1328.50V1321.10q0 -1 1 -1h2.2q1 0 1 1V1328.50z" fill="#000"/>
<path d="M1096.05 1328.50V1321.10q0 -1 1 -1h2.2q1 0 1 1V1328.50z" fill="#000"/>
<path d="M1142.82 1328.50V1314.30q0 -1 1 -1h2.2q1 0 1 1V1328.50z" fill="#000"/>
<path d="M1181.04 1328.50V1321.10q0 -1 1 -1h2.2q1 0 1 1V1328.50z" fill="#000"/>
<path d="M1213.34 1328.50V1321.10q0 -1 1 -1h2.2q1 0 1 1V1328.50z" fill="#000"/>
<path d="M1241.33 1328.50V1321.10q0 -1 1 -1h2.2q1 0 1 1V1328.50z" fill="#000"/>
<path d="M1266.02 1328.50V1321.10q0 -1 1 -1h2.2q1 0 1 1V1328.50z" fill="#000"/>
<path d="M1288.10 1328.50V1306.90q0 -1 1 -1h2.2q1 0 1 1V1328.50z" fill="#000"/>
<path d="M1433.38 1328.50V1321.10q0 -1 1 -1h2.2q1 0 1 1V1328.50z" fill="#000"/>
<path d="M1518.36 1328.50V1321.10q0 -1 1 -1h2.2q1 0 1 1V1328.50z" fill="#000"/>
<path d="M1578.65 1328.50V1321.10q0 -1 1 -1h2.2q1 0 1 1V1328.50z" fill="#000"/>
<path d="M1625.42 1328.50V1314.30q0 -1 1 -1h2.2q1 0 1 1V1328.50z" fill="#000"/>
<path d="M1663.64 1328.50V1321.10q0 -1 1 -1h2.2q1 0 1 1V1328.50z" fill="#000"/>
<path d="M1695.94 1328.50V1321.10q0 -1 1 -1h2.2q1 0 1 1V1328.50z" fill="#000"/>
<path d="M1723.93 1328.50V1321.10q0 -1 1 -1h2.2q1 0 1 1V1328.50z" fill="#000"/>
<path d="M1748.62 1328.50V1321.10q0 -1 1 -1h2.2q1 0 1 1V1328.50z" fill="#000"/>
<path d="M1770.70 1328.50V1306.90q0 -1 1 -1h2.2q1 0 1 1V1328.50z" fill="#000"/>
<path d="M1915.98 1328.50V1321.10q0 -1 1 -1h2.2q1 0 1 1V1328.50z" fill="#000"/>
<path d="M2000.96 1328.50V1321.10q0 -1 1 -1h2.2q1 0 1 1V1328.50z" fill="#000"/>
<path d="M2061.25 1328.50V1321.10q0 -1 1 -1h2.2q1 0 1 1V1328.50z" fill="#000"/>
<path d="M2108.02 1328.50V1314.30q0 -1 1 -1h2.2q1 0 1 1V1328.50z" fill="#000"/>
<text transform="translate(1132.5 1184.35) scale(1 1.01)" text-anchor="middle" class="t30">Unk</text>
<text transform="translate(325.00 1366.1) scale(1 1.01)" text-anchor="middle" class="t30">1,000</text>
<text transform="translate(807.60 1366.1) scale(1 1.01)" text-anchor="middle" class="t30">10,000</text>
<text transform="translate(1290.20 1366.1) scale(1 1.01)" text-anchor="middle" class="t30">100,000</text>
<text transform="translate(1772.80 1366.1) scale(1 1.01)" text-anchor="middle" class="t30">1,000,000</text>
<text transform="translate(1132.3 1407.2) scale(1 1.02)" text-anchor="middle" class="t34">SD length</text>
<text transform="translate(32.0 872.6) rotate(-90) scale(1 1.02)" text-anchor="middle" class="t34">SD % identity</text>
<text transform="translate(0 405.2) scale(1 1.02)" class="lab">b</text>
</svg></body></html>
